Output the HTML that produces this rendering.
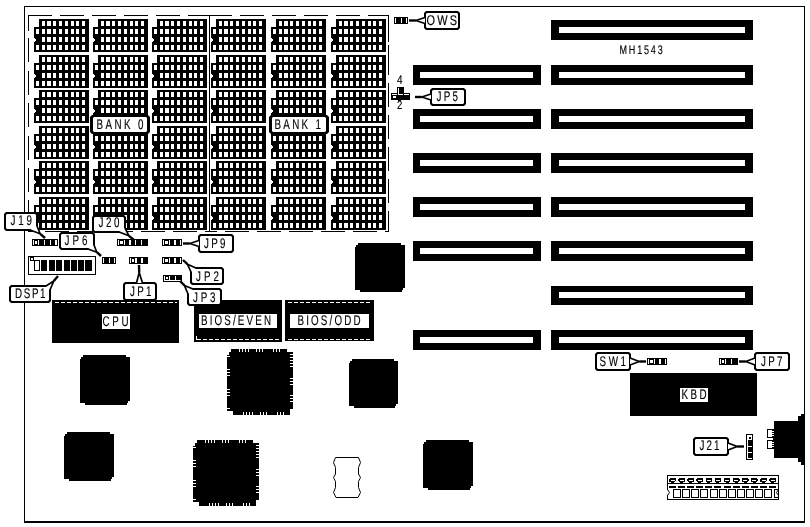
<!DOCTYPE html>
<html lang="en">
<head>
<meta charset="utf-8">
<title>MH1543 motherboard layout</title>
<style>
html,body{margin:0;padding:0;background:#fff;}
body{width:810px;height:527px;overflow:hidden;}
svg{display:block;}
svg rect, svg polygon{shape-rendering:crispEdges;}
svg text{text-rendering:geometricPrecision;}
svg{will-change:transform;}
</style>
</head>
<body>
<svg width="810" height="527" viewBox="0 0 810 527">
<rect x="0" y="0" width="810" height="527" fill="#fff"/>
<rect x="24" y="6" width="781" height="1" fill="#000"/>
<rect x="24" y="6" width="1" height="516" fill="#000"/>
<rect x="804" y="6" width="1" height="516" fill="#000"/>
<rect x="24" y="521" width="781" height="2" fill="#000"/>
<rect x="28" y="15" width="24" height="1" fill="#000"/>
<rect x="60" y="15" width="24" height="1" fill="#000"/>
<rect x="92" y="15" width="24" height="1" fill="#000"/>
<rect x="124" y="15" width="24" height="1" fill="#000"/>
<rect x="156" y="15" width="24" height="1" fill="#000"/>
<rect x="188" y="15" width="24" height="1" fill="#000"/>
<rect x="208" y="15" width="24" height="1" fill="#000"/>
<rect x="240" y="15" width="24" height="1" fill="#000"/>
<rect x="272" y="15" width="24" height="1" fill="#000"/>
<rect x="304" y="15" width="24" height="1" fill="#000"/>
<rect x="336" y="15" width="24" height="1" fill="#000"/>
<rect x="368" y="15" width="21" height="1" fill="#000"/>
<rect x="28" y="231" width="9" height="1" fill="#000"/>
<rect x="45" y="231" width="24" height="1" fill="#000"/>
<rect x="77" y="231" width="24" height="1" fill="#000"/>
<rect x="109" y="231" width="24" height="1" fill="#000"/>
<rect x="141" y="231" width="24" height="1" fill="#000"/>
<rect x="173" y="231" width="24" height="1" fill="#000"/>
<rect x="205" y="231" width="12" height="1" fill="#000"/>
<rect x="225" y="231" width="24" height="1" fill="#000"/>
<rect x="257" y="231" width="24" height="1" fill="#000"/>
<rect x="289" y="231" width="24" height="1" fill="#000"/>
<rect x="321" y="231" width="24" height="1" fill="#000"/>
<rect x="353" y="231" width="24" height="1" fill="#000"/>
<rect x="385" y="231" width="4" height="1" fill="#000"/>
<rect x="28" y="15" width="1" height="16" fill="#000"/>
<rect x="28" y="38" width="1" height="24" fill="#000"/>
<rect x="28" y="71" width="1" height="24" fill="#000"/>
<rect x="28" y="103" width="1" height="24" fill="#000"/>
<rect x="28" y="136" width="1" height="24" fill="#000"/>
<rect x="28" y="168" width="1" height="24" fill="#000"/>
<rect x="28" y="200" width="1" height="24" fill="#000"/>
<rect x="388" y="15" width="1" height="27" fill="#000"/>
<rect x="388" y="45" width="1" height="30" fill="#000"/>
<rect x="388" y="83" width="1" height="24" fill="#000"/>
<rect x="388" y="115" width="1" height="24" fill="#000"/>
<rect x="388" y="147" width="1" height="24" fill="#000"/>
<rect x="388" y="179" width="1" height="24" fill="#000"/>
<rect x="388" y="211" width="1" height="21" fill="#000"/>
<rect x="209" y="15" width="1" height="217" fill="#000"/>
<rect x="39" y="19" width="50" height="33" fill="#000"/>
<rect x="34" y="27" width="5" height="25" fill="#000"/>
<rect x="34" y="38" width="1" height="4" fill="#fff"/>
<rect x="35" y="39" width="1" height="2" fill="#fff"/>
<rect x="42" y="21" width="3" height="5" fill="#fff"/>
<rect x="47" y="21" width="4" height="5" fill="#fff"/>
<rect x="53" y="21" width="3" height="5" fill="#fff"/>
<rect x="59" y="21" width="3" height="5" fill="#fff"/>
<rect x="65" y="21" width="3" height="5" fill="#fff"/>
<rect x="71" y="21" width="3" height="5" fill="#fff"/>
<rect x="76" y="21" width="3" height="5" fill="#fff"/>
<rect x="82" y="21" width="3" height="5" fill="#fff"/>
<rect x="42" y="29" width="3" height="5" fill="#fff"/>
<rect x="47" y="29" width="4" height="5" fill="#fff"/>
<rect x="53" y="29" width="3" height="5" fill="#fff"/>
<rect x="59" y="29" width="3" height="5" fill="#fff"/>
<rect x="65" y="29" width="3" height="5" fill="#fff"/>
<rect x="71" y="29" width="3" height="5" fill="#fff"/>
<rect x="76" y="29" width="3" height="5" fill="#fff"/>
<rect x="82" y="29" width="3" height="5" fill="#fff"/>
<rect x="36" y="29" width="3" height="5" fill="#fff"/>
<rect x="42" y="37" width="3" height="5" fill="#fff"/>
<rect x="47" y="37" width="4" height="5" fill="#fff"/>
<rect x="53" y="37" width="3" height="5" fill="#fff"/>
<rect x="59" y="37" width="3" height="5" fill="#fff"/>
<rect x="65" y="37" width="3" height="5" fill="#fff"/>
<rect x="71" y="37" width="3" height="5" fill="#fff"/>
<rect x="76" y="37" width="3" height="5" fill="#fff"/>
<rect x="82" y="37" width="3" height="5" fill="#fff"/>
<rect x="42" y="45" width="3" height="5" fill="#fff"/>
<rect x="47" y="45" width="4" height="5" fill="#fff"/>
<rect x="53" y="45" width="3" height="5" fill="#fff"/>
<rect x="59" y="45" width="3" height="5" fill="#fff"/>
<rect x="65" y="45" width="3" height="5" fill="#fff"/>
<rect x="71" y="45" width="3" height="5" fill="#fff"/>
<rect x="76" y="45" width="3" height="5" fill="#fff"/>
<rect x="82" y="45" width="3" height="5" fill="#fff"/>
<rect x="36" y="45" width="3" height="5" fill="#fff"/>
<rect x="98" y="19" width="50" height="33" fill="#000"/>
<rect x="93" y="27" width="5" height="25" fill="#000"/>
<rect x="93" y="38" width="1" height="4" fill="#fff"/>
<rect x="94" y="39" width="1" height="2" fill="#fff"/>
<rect x="101" y="21" width="3" height="5" fill="#fff"/>
<rect x="106" y="21" width="4" height="5" fill="#fff"/>
<rect x="112" y="21" width="3" height="5" fill="#fff"/>
<rect x="118" y="21" width="3" height="5" fill="#fff"/>
<rect x="124" y="21" width="3" height="5" fill="#fff"/>
<rect x="130" y="21" width="3" height="5" fill="#fff"/>
<rect x="135" y="21" width="3" height="5" fill="#fff"/>
<rect x="141" y="21" width="3" height="5" fill="#fff"/>
<rect x="101" y="29" width="3" height="5" fill="#fff"/>
<rect x="106" y="29" width="4" height="5" fill="#fff"/>
<rect x="112" y="29" width="3" height="5" fill="#fff"/>
<rect x="118" y="29" width="3" height="5" fill="#fff"/>
<rect x="124" y="29" width="3" height="5" fill="#fff"/>
<rect x="130" y="29" width="3" height="5" fill="#fff"/>
<rect x="135" y="29" width="3" height="5" fill="#fff"/>
<rect x="141" y="29" width="3" height="5" fill="#fff"/>
<rect x="95" y="29" width="3" height="5" fill="#fff"/>
<rect x="101" y="37" width="3" height="5" fill="#fff"/>
<rect x="106" y="37" width="4" height="5" fill="#fff"/>
<rect x="112" y="37" width="3" height="5" fill="#fff"/>
<rect x="118" y="37" width="3" height="5" fill="#fff"/>
<rect x="124" y="37" width="3" height="5" fill="#fff"/>
<rect x="130" y="37" width="3" height="5" fill="#fff"/>
<rect x="135" y="37" width="3" height="5" fill="#fff"/>
<rect x="141" y="37" width="3" height="5" fill="#fff"/>
<rect x="101" y="45" width="3" height="5" fill="#fff"/>
<rect x="106" y="45" width="4" height="5" fill="#fff"/>
<rect x="112" y="45" width="3" height="5" fill="#fff"/>
<rect x="118" y="45" width="3" height="5" fill="#fff"/>
<rect x="124" y="45" width="3" height="5" fill="#fff"/>
<rect x="130" y="45" width="3" height="5" fill="#fff"/>
<rect x="135" y="45" width="3" height="5" fill="#fff"/>
<rect x="141" y="45" width="3" height="5" fill="#fff"/>
<rect x="95" y="45" width="3" height="5" fill="#fff"/>
<rect x="157" y="19" width="50" height="33" fill="#000"/>
<rect x="152" y="27" width="5" height="25" fill="#000"/>
<rect x="152" y="38" width="1" height="4" fill="#fff"/>
<rect x="153" y="39" width="1" height="2" fill="#fff"/>
<rect x="160" y="21" width="3" height="5" fill="#fff"/>
<rect x="165" y="21" width="4" height="5" fill="#fff"/>
<rect x="171" y="21" width="3" height="5" fill="#fff"/>
<rect x="177" y="21" width="3" height="5" fill="#fff"/>
<rect x="183" y="21" width="3" height="5" fill="#fff"/>
<rect x="189" y="21" width="3" height="5" fill="#fff"/>
<rect x="194" y="21" width="3" height="5" fill="#fff"/>
<rect x="200" y="21" width="3" height="5" fill="#fff"/>
<rect x="160" y="29" width="3" height="5" fill="#fff"/>
<rect x="165" y="29" width="4" height="5" fill="#fff"/>
<rect x="171" y="29" width="3" height="5" fill="#fff"/>
<rect x="177" y="29" width="3" height="5" fill="#fff"/>
<rect x="183" y="29" width="3" height="5" fill="#fff"/>
<rect x="189" y="29" width="3" height="5" fill="#fff"/>
<rect x="194" y="29" width="3" height="5" fill="#fff"/>
<rect x="200" y="29" width="3" height="5" fill="#fff"/>
<rect x="154" y="29" width="3" height="5" fill="#fff"/>
<rect x="160" y="37" width="3" height="5" fill="#fff"/>
<rect x="165" y="37" width="4" height="5" fill="#fff"/>
<rect x="171" y="37" width="3" height="5" fill="#fff"/>
<rect x="177" y="37" width="3" height="5" fill="#fff"/>
<rect x="183" y="37" width="3" height="5" fill="#fff"/>
<rect x="189" y="37" width="3" height="5" fill="#fff"/>
<rect x="194" y="37" width="3" height="5" fill="#fff"/>
<rect x="200" y="37" width="3" height="5" fill="#fff"/>
<rect x="160" y="45" width="3" height="5" fill="#fff"/>
<rect x="165" y="45" width="4" height="5" fill="#fff"/>
<rect x="171" y="45" width="3" height="5" fill="#fff"/>
<rect x="177" y="45" width="3" height="5" fill="#fff"/>
<rect x="183" y="45" width="3" height="5" fill="#fff"/>
<rect x="189" y="45" width="3" height="5" fill="#fff"/>
<rect x="194" y="45" width="3" height="5" fill="#fff"/>
<rect x="200" y="45" width="3" height="5" fill="#fff"/>
<rect x="154" y="45" width="3" height="5" fill="#fff"/>
<rect x="216" y="19" width="50" height="33" fill="#000"/>
<rect x="211" y="27" width="5" height="25" fill="#000"/>
<rect x="211" y="38" width="1" height="4" fill="#fff"/>
<rect x="212" y="39" width="1" height="2" fill="#fff"/>
<rect x="219" y="21" width="3" height="5" fill="#fff"/>
<rect x="224" y="21" width="4" height="5" fill="#fff"/>
<rect x="230" y="21" width="3" height="5" fill="#fff"/>
<rect x="236" y="21" width="3" height="5" fill="#fff"/>
<rect x="242" y="21" width="3" height="5" fill="#fff"/>
<rect x="248" y="21" width="3" height="5" fill="#fff"/>
<rect x="253" y="21" width="3" height="5" fill="#fff"/>
<rect x="259" y="21" width="3" height="5" fill="#fff"/>
<rect x="219" y="29" width="3" height="5" fill="#fff"/>
<rect x="224" y="29" width="4" height="5" fill="#fff"/>
<rect x="230" y="29" width="3" height="5" fill="#fff"/>
<rect x="236" y="29" width="3" height="5" fill="#fff"/>
<rect x="242" y="29" width="3" height="5" fill="#fff"/>
<rect x="248" y="29" width="3" height="5" fill="#fff"/>
<rect x="253" y="29" width="3" height="5" fill="#fff"/>
<rect x="259" y="29" width="3" height="5" fill="#fff"/>
<rect x="213" y="29" width="3" height="5" fill="#fff"/>
<rect x="219" y="37" width="3" height="5" fill="#fff"/>
<rect x="224" y="37" width="4" height="5" fill="#fff"/>
<rect x="230" y="37" width="3" height="5" fill="#fff"/>
<rect x="236" y="37" width="3" height="5" fill="#fff"/>
<rect x="242" y="37" width="3" height="5" fill="#fff"/>
<rect x="248" y="37" width="3" height="5" fill="#fff"/>
<rect x="253" y="37" width="3" height="5" fill="#fff"/>
<rect x="259" y="37" width="3" height="5" fill="#fff"/>
<rect x="219" y="45" width="3" height="5" fill="#fff"/>
<rect x="224" y="45" width="4" height="5" fill="#fff"/>
<rect x="230" y="45" width="3" height="5" fill="#fff"/>
<rect x="236" y="45" width="3" height="5" fill="#fff"/>
<rect x="242" y="45" width="3" height="5" fill="#fff"/>
<rect x="248" y="45" width="3" height="5" fill="#fff"/>
<rect x="253" y="45" width="3" height="5" fill="#fff"/>
<rect x="259" y="45" width="3" height="5" fill="#fff"/>
<rect x="213" y="45" width="3" height="5" fill="#fff"/>
<rect x="276" y="19" width="50" height="33" fill="#000"/>
<rect x="271" y="27" width="5" height="25" fill="#000"/>
<rect x="271" y="38" width="1" height="4" fill="#fff"/>
<rect x="272" y="39" width="1" height="2" fill="#fff"/>
<rect x="279" y="21" width="3" height="5" fill="#fff"/>
<rect x="284" y="21" width="4" height="5" fill="#fff"/>
<rect x="290" y="21" width="3" height="5" fill="#fff"/>
<rect x="296" y="21" width="3" height="5" fill="#fff"/>
<rect x="302" y="21" width="3" height="5" fill="#fff"/>
<rect x="308" y="21" width="3" height="5" fill="#fff"/>
<rect x="313" y="21" width="3" height="5" fill="#fff"/>
<rect x="319" y="21" width="3" height="5" fill="#fff"/>
<rect x="279" y="29" width="3" height="5" fill="#fff"/>
<rect x="284" y="29" width="4" height="5" fill="#fff"/>
<rect x="290" y="29" width="3" height="5" fill="#fff"/>
<rect x="296" y="29" width="3" height="5" fill="#fff"/>
<rect x="302" y="29" width="3" height="5" fill="#fff"/>
<rect x="308" y="29" width="3" height="5" fill="#fff"/>
<rect x="313" y="29" width="3" height="5" fill="#fff"/>
<rect x="319" y="29" width="3" height="5" fill="#fff"/>
<rect x="273" y="29" width="3" height="5" fill="#fff"/>
<rect x="279" y="37" width="3" height="5" fill="#fff"/>
<rect x="284" y="37" width="4" height="5" fill="#fff"/>
<rect x="290" y="37" width="3" height="5" fill="#fff"/>
<rect x="296" y="37" width="3" height="5" fill="#fff"/>
<rect x="302" y="37" width="3" height="5" fill="#fff"/>
<rect x="308" y="37" width="3" height="5" fill="#fff"/>
<rect x="313" y="37" width="3" height="5" fill="#fff"/>
<rect x="319" y="37" width="3" height="5" fill="#fff"/>
<rect x="279" y="45" width="3" height="5" fill="#fff"/>
<rect x="284" y="45" width="4" height="5" fill="#fff"/>
<rect x="290" y="45" width="3" height="5" fill="#fff"/>
<rect x="296" y="45" width="3" height="5" fill="#fff"/>
<rect x="302" y="45" width="3" height="5" fill="#fff"/>
<rect x="308" y="45" width="3" height="5" fill="#fff"/>
<rect x="313" y="45" width="3" height="5" fill="#fff"/>
<rect x="319" y="45" width="3" height="5" fill="#fff"/>
<rect x="273" y="45" width="3" height="5" fill="#fff"/>
<rect x="336" y="19" width="50" height="33" fill="#000"/>
<rect x="331" y="27" width="5" height="25" fill="#000"/>
<rect x="331" y="38" width="1" height="4" fill="#fff"/>
<rect x="332" y="39" width="1" height="2" fill="#fff"/>
<rect x="339" y="21" width="3" height="5" fill="#fff"/>
<rect x="344" y="21" width="4" height="5" fill="#fff"/>
<rect x="350" y="21" width="3" height="5" fill="#fff"/>
<rect x="356" y="21" width="3" height="5" fill="#fff"/>
<rect x="362" y="21" width="3" height="5" fill="#fff"/>
<rect x="368" y="21" width="3" height="5" fill="#fff"/>
<rect x="373" y="21" width="3" height="5" fill="#fff"/>
<rect x="379" y="21" width="3" height="5" fill="#fff"/>
<rect x="339" y="29" width="3" height="5" fill="#fff"/>
<rect x="344" y="29" width="4" height="5" fill="#fff"/>
<rect x="350" y="29" width="3" height="5" fill="#fff"/>
<rect x="356" y="29" width="3" height="5" fill="#fff"/>
<rect x="362" y="29" width="3" height="5" fill="#fff"/>
<rect x="368" y="29" width="3" height="5" fill="#fff"/>
<rect x="373" y="29" width="3" height="5" fill="#fff"/>
<rect x="379" y="29" width="3" height="5" fill="#fff"/>
<rect x="333" y="29" width="3" height="5" fill="#fff"/>
<rect x="339" y="37" width="3" height="5" fill="#fff"/>
<rect x="344" y="37" width="4" height="5" fill="#fff"/>
<rect x="350" y="37" width="3" height="5" fill="#fff"/>
<rect x="356" y="37" width="3" height="5" fill="#fff"/>
<rect x="362" y="37" width="3" height="5" fill="#fff"/>
<rect x="368" y="37" width="3" height="5" fill="#fff"/>
<rect x="373" y="37" width="3" height="5" fill="#fff"/>
<rect x="379" y="37" width="3" height="5" fill="#fff"/>
<rect x="339" y="45" width="3" height="5" fill="#fff"/>
<rect x="344" y="45" width="4" height="5" fill="#fff"/>
<rect x="350" y="45" width="3" height="5" fill="#fff"/>
<rect x="356" y="45" width="3" height="5" fill="#fff"/>
<rect x="362" y="45" width="3" height="5" fill="#fff"/>
<rect x="368" y="45" width="3" height="5" fill="#fff"/>
<rect x="373" y="45" width="3" height="5" fill="#fff"/>
<rect x="379" y="45" width="3" height="5" fill="#fff"/>
<rect x="333" y="45" width="3" height="5" fill="#fff"/>
<rect x="39" y="55" width="50" height="33" fill="#000"/>
<rect x="34" y="63" width="5" height="25" fill="#000"/>
<rect x="34" y="74" width="1" height="4" fill="#fff"/>
<rect x="35" y="75" width="1" height="2" fill="#fff"/>
<rect x="42" y="57" width="3" height="5" fill="#fff"/>
<rect x="47" y="57" width="4" height="5" fill="#fff"/>
<rect x="53" y="57" width="3" height="5" fill="#fff"/>
<rect x="59" y="57" width="3" height="5" fill="#fff"/>
<rect x="65" y="57" width="3" height="5" fill="#fff"/>
<rect x="71" y="57" width="3" height="5" fill="#fff"/>
<rect x="76" y="57" width="3" height="5" fill="#fff"/>
<rect x="82" y="57" width="3" height="5" fill="#fff"/>
<rect x="42" y="65" width="3" height="5" fill="#fff"/>
<rect x="47" y="65" width="4" height="5" fill="#fff"/>
<rect x="53" y="65" width="3" height="5" fill="#fff"/>
<rect x="59" y="65" width="3" height="5" fill="#fff"/>
<rect x="65" y="65" width="3" height="5" fill="#fff"/>
<rect x="71" y="65" width="3" height="5" fill="#fff"/>
<rect x="76" y="65" width="3" height="5" fill="#fff"/>
<rect x="82" y="65" width="3" height="5" fill="#fff"/>
<rect x="36" y="65" width="3" height="5" fill="#fff"/>
<rect x="42" y="73" width="3" height="5" fill="#fff"/>
<rect x="47" y="73" width="4" height="5" fill="#fff"/>
<rect x="53" y="73" width="3" height="5" fill="#fff"/>
<rect x="59" y="73" width="3" height="5" fill="#fff"/>
<rect x="65" y="73" width="3" height="5" fill="#fff"/>
<rect x="71" y="73" width="3" height="5" fill="#fff"/>
<rect x="76" y="73" width="3" height="5" fill="#fff"/>
<rect x="82" y="73" width="3" height="5" fill="#fff"/>
<rect x="42" y="81" width="3" height="5" fill="#fff"/>
<rect x="47" y="81" width="4" height="5" fill="#fff"/>
<rect x="53" y="81" width="3" height="5" fill="#fff"/>
<rect x="59" y="81" width="3" height="5" fill="#fff"/>
<rect x="65" y="81" width="3" height="5" fill="#fff"/>
<rect x="71" y="81" width="3" height="5" fill="#fff"/>
<rect x="76" y="81" width="3" height="5" fill="#fff"/>
<rect x="82" y="81" width="3" height="5" fill="#fff"/>
<rect x="36" y="81" width="3" height="5" fill="#fff"/>
<rect x="98" y="55" width="50" height="33" fill="#000"/>
<rect x="93" y="63" width="5" height="25" fill="#000"/>
<rect x="93" y="74" width="1" height="4" fill="#fff"/>
<rect x="94" y="75" width="1" height="2" fill="#fff"/>
<rect x="101" y="57" width="3" height="5" fill="#fff"/>
<rect x="106" y="57" width="4" height="5" fill="#fff"/>
<rect x="112" y="57" width="3" height="5" fill="#fff"/>
<rect x="118" y="57" width="3" height="5" fill="#fff"/>
<rect x="124" y="57" width="3" height="5" fill="#fff"/>
<rect x="130" y="57" width="3" height="5" fill="#fff"/>
<rect x="135" y="57" width="3" height="5" fill="#fff"/>
<rect x="141" y="57" width="3" height="5" fill="#fff"/>
<rect x="101" y="65" width="3" height="5" fill="#fff"/>
<rect x="106" y="65" width="4" height="5" fill="#fff"/>
<rect x="112" y="65" width="3" height="5" fill="#fff"/>
<rect x="118" y="65" width="3" height="5" fill="#fff"/>
<rect x="124" y="65" width="3" height="5" fill="#fff"/>
<rect x="130" y="65" width="3" height="5" fill="#fff"/>
<rect x="135" y="65" width="3" height="5" fill="#fff"/>
<rect x="141" y="65" width="3" height="5" fill="#fff"/>
<rect x="95" y="65" width="3" height="5" fill="#fff"/>
<rect x="101" y="73" width="3" height="5" fill="#fff"/>
<rect x="106" y="73" width="4" height="5" fill="#fff"/>
<rect x="112" y="73" width="3" height="5" fill="#fff"/>
<rect x="118" y="73" width="3" height="5" fill="#fff"/>
<rect x="124" y="73" width="3" height="5" fill="#fff"/>
<rect x="130" y="73" width="3" height="5" fill="#fff"/>
<rect x="135" y="73" width="3" height="5" fill="#fff"/>
<rect x="141" y="73" width="3" height="5" fill="#fff"/>
<rect x="101" y="81" width="3" height="5" fill="#fff"/>
<rect x="106" y="81" width="4" height="5" fill="#fff"/>
<rect x="112" y="81" width="3" height="5" fill="#fff"/>
<rect x="118" y="81" width="3" height="5" fill="#fff"/>
<rect x="124" y="81" width="3" height="5" fill="#fff"/>
<rect x="130" y="81" width="3" height="5" fill="#fff"/>
<rect x="135" y="81" width="3" height="5" fill="#fff"/>
<rect x="141" y="81" width="3" height="5" fill="#fff"/>
<rect x="95" y="81" width="3" height="5" fill="#fff"/>
<rect x="157" y="55" width="50" height="33" fill="#000"/>
<rect x="152" y="63" width="5" height="25" fill="#000"/>
<rect x="152" y="74" width="1" height="4" fill="#fff"/>
<rect x="153" y="75" width="1" height="2" fill="#fff"/>
<rect x="160" y="57" width="3" height="5" fill="#fff"/>
<rect x="165" y="57" width="4" height="5" fill="#fff"/>
<rect x="171" y="57" width="3" height="5" fill="#fff"/>
<rect x="177" y="57" width="3" height="5" fill="#fff"/>
<rect x="183" y="57" width="3" height="5" fill="#fff"/>
<rect x="189" y="57" width="3" height="5" fill="#fff"/>
<rect x="194" y="57" width="3" height="5" fill="#fff"/>
<rect x="200" y="57" width="3" height="5" fill="#fff"/>
<rect x="160" y="65" width="3" height="5" fill="#fff"/>
<rect x="165" y="65" width="4" height="5" fill="#fff"/>
<rect x="171" y="65" width="3" height="5" fill="#fff"/>
<rect x="177" y="65" width="3" height="5" fill="#fff"/>
<rect x="183" y="65" width="3" height="5" fill="#fff"/>
<rect x="189" y="65" width="3" height="5" fill="#fff"/>
<rect x="194" y="65" width="3" height="5" fill="#fff"/>
<rect x="200" y="65" width="3" height="5" fill="#fff"/>
<rect x="154" y="65" width="3" height="5" fill="#fff"/>
<rect x="160" y="73" width="3" height="5" fill="#fff"/>
<rect x="165" y="73" width="4" height="5" fill="#fff"/>
<rect x="171" y="73" width="3" height="5" fill="#fff"/>
<rect x="177" y="73" width="3" height="5" fill="#fff"/>
<rect x="183" y="73" width="3" height="5" fill="#fff"/>
<rect x="189" y="73" width="3" height="5" fill="#fff"/>
<rect x="194" y="73" width="3" height="5" fill="#fff"/>
<rect x="200" y="73" width="3" height="5" fill="#fff"/>
<rect x="160" y="81" width="3" height="5" fill="#fff"/>
<rect x="165" y="81" width="4" height="5" fill="#fff"/>
<rect x="171" y="81" width="3" height="5" fill="#fff"/>
<rect x="177" y="81" width="3" height="5" fill="#fff"/>
<rect x="183" y="81" width="3" height="5" fill="#fff"/>
<rect x="189" y="81" width="3" height="5" fill="#fff"/>
<rect x="194" y="81" width="3" height="5" fill="#fff"/>
<rect x="200" y="81" width="3" height="5" fill="#fff"/>
<rect x="154" y="81" width="3" height="5" fill="#fff"/>
<rect x="216" y="55" width="50" height="33" fill="#000"/>
<rect x="211" y="63" width="5" height="25" fill="#000"/>
<rect x="211" y="74" width="1" height="4" fill="#fff"/>
<rect x="212" y="75" width="1" height="2" fill="#fff"/>
<rect x="219" y="57" width="3" height="5" fill="#fff"/>
<rect x="224" y="57" width="4" height="5" fill="#fff"/>
<rect x="230" y="57" width="3" height="5" fill="#fff"/>
<rect x="236" y="57" width="3" height="5" fill="#fff"/>
<rect x="242" y="57" width="3" height="5" fill="#fff"/>
<rect x="248" y="57" width="3" height="5" fill="#fff"/>
<rect x="253" y="57" width="3" height="5" fill="#fff"/>
<rect x="259" y="57" width="3" height="5" fill="#fff"/>
<rect x="219" y="65" width="3" height="5" fill="#fff"/>
<rect x="224" y="65" width="4" height="5" fill="#fff"/>
<rect x="230" y="65" width="3" height="5" fill="#fff"/>
<rect x="236" y="65" width="3" height="5" fill="#fff"/>
<rect x="242" y="65" width="3" height="5" fill="#fff"/>
<rect x="248" y="65" width="3" height="5" fill="#fff"/>
<rect x="253" y="65" width="3" height="5" fill="#fff"/>
<rect x="259" y="65" width="3" height="5" fill="#fff"/>
<rect x="213" y="65" width="3" height="5" fill="#fff"/>
<rect x="219" y="73" width="3" height="5" fill="#fff"/>
<rect x="224" y="73" width="4" height="5" fill="#fff"/>
<rect x="230" y="73" width="3" height="5" fill="#fff"/>
<rect x="236" y="73" width="3" height="5" fill="#fff"/>
<rect x="242" y="73" width="3" height="5" fill="#fff"/>
<rect x="248" y="73" width="3" height="5" fill="#fff"/>
<rect x="253" y="73" width="3" height="5" fill="#fff"/>
<rect x="259" y="73" width="3" height="5" fill="#fff"/>
<rect x="219" y="81" width="3" height="5" fill="#fff"/>
<rect x="224" y="81" width="4" height="5" fill="#fff"/>
<rect x="230" y="81" width="3" height="5" fill="#fff"/>
<rect x="236" y="81" width="3" height="5" fill="#fff"/>
<rect x="242" y="81" width="3" height="5" fill="#fff"/>
<rect x="248" y="81" width="3" height="5" fill="#fff"/>
<rect x="253" y="81" width="3" height="5" fill="#fff"/>
<rect x="259" y="81" width="3" height="5" fill="#fff"/>
<rect x="213" y="81" width="3" height="5" fill="#fff"/>
<rect x="276" y="55" width="50" height="33" fill="#000"/>
<rect x="271" y="63" width="5" height="25" fill="#000"/>
<rect x="271" y="74" width="1" height="4" fill="#fff"/>
<rect x="272" y="75" width="1" height="2" fill="#fff"/>
<rect x="279" y="57" width="3" height="5" fill="#fff"/>
<rect x="284" y="57" width="4" height="5" fill="#fff"/>
<rect x="290" y="57" width="3" height="5" fill="#fff"/>
<rect x="296" y="57" width="3" height="5" fill="#fff"/>
<rect x="302" y="57" width="3" height="5" fill="#fff"/>
<rect x="308" y="57" width="3" height="5" fill="#fff"/>
<rect x="313" y="57" width="3" height="5" fill="#fff"/>
<rect x="319" y="57" width="3" height="5" fill="#fff"/>
<rect x="279" y="65" width="3" height="5" fill="#fff"/>
<rect x="284" y="65" width="4" height="5" fill="#fff"/>
<rect x="290" y="65" width="3" height="5" fill="#fff"/>
<rect x="296" y="65" width="3" height="5" fill="#fff"/>
<rect x="302" y="65" width="3" height="5" fill="#fff"/>
<rect x="308" y="65" width="3" height="5" fill="#fff"/>
<rect x="313" y="65" width="3" height="5" fill="#fff"/>
<rect x="319" y="65" width="3" height="5" fill="#fff"/>
<rect x="273" y="65" width="3" height="5" fill="#fff"/>
<rect x="279" y="73" width="3" height="5" fill="#fff"/>
<rect x="284" y="73" width="4" height="5" fill="#fff"/>
<rect x="290" y="73" width="3" height="5" fill="#fff"/>
<rect x="296" y="73" width="3" height="5" fill="#fff"/>
<rect x="302" y="73" width="3" height="5" fill="#fff"/>
<rect x="308" y="73" width="3" height="5" fill="#fff"/>
<rect x="313" y="73" width="3" height="5" fill="#fff"/>
<rect x="319" y="73" width="3" height="5" fill="#fff"/>
<rect x="279" y="81" width="3" height="5" fill="#fff"/>
<rect x="284" y="81" width="4" height="5" fill="#fff"/>
<rect x="290" y="81" width="3" height="5" fill="#fff"/>
<rect x="296" y="81" width="3" height="5" fill="#fff"/>
<rect x="302" y="81" width="3" height="5" fill="#fff"/>
<rect x="308" y="81" width="3" height="5" fill="#fff"/>
<rect x="313" y="81" width="3" height="5" fill="#fff"/>
<rect x="319" y="81" width="3" height="5" fill="#fff"/>
<rect x="273" y="81" width="3" height="5" fill="#fff"/>
<rect x="336" y="55" width="50" height="33" fill="#000"/>
<rect x="331" y="63" width="5" height="25" fill="#000"/>
<rect x="331" y="74" width="1" height="4" fill="#fff"/>
<rect x="332" y="75" width="1" height="2" fill="#fff"/>
<rect x="339" y="57" width="3" height="5" fill="#fff"/>
<rect x="344" y="57" width="4" height="5" fill="#fff"/>
<rect x="350" y="57" width="3" height="5" fill="#fff"/>
<rect x="356" y="57" width="3" height="5" fill="#fff"/>
<rect x="362" y="57" width="3" height="5" fill="#fff"/>
<rect x="368" y="57" width="3" height="5" fill="#fff"/>
<rect x="373" y="57" width="3" height="5" fill="#fff"/>
<rect x="379" y="57" width="3" height="5" fill="#fff"/>
<rect x="339" y="65" width="3" height="5" fill="#fff"/>
<rect x="344" y="65" width="4" height="5" fill="#fff"/>
<rect x="350" y="65" width="3" height="5" fill="#fff"/>
<rect x="356" y="65" width="3" height="5" fill="#fff"/>
<rect x="362" y="65" width="3" height="5" fill="#fff"/>
<rect x="368" y="65" width="3" height="5" fill="#fff"/>
<rect x="373" y="65" width="3" height="5" fill="#fff"/>
<rect x="379" y="65" width="3" height="5" fill="#fff"/>
<rect x="333" y="65" width="3" height="5" fill="#fff"/>
<rect x="339" y="73" width="3" height="5" fill="#fff"/>
<rect x="344" y="73" width="4" height="5" fill="#fff"/>
<rect x="350" y="73" width="3" height="5" fill="#fff"/>
<rect x="356" y="73" width="3" height="5" fill="#fff"/>
<rect x="362" y="73" width="3" height="5" fill="#fff"/>
<rect x="368" y="73" width="3" height="5" fill="#fff"/>
<rect x="373" y="73" width="3" height="5" fill="#fff"/>
<rect x="379" y="73" width="3" height="5" fill="#fff"/>
<rect x="339" y="81" width="3" height="5" fill="#fff"/>
<rect x="344" y="81" width="4" height="5" fill="#fff"/>
<rect x="350" y="81" width="3" height="5" fill="#fff"/>
<rect x="356" y="81" width="3" height="5" fill="#fff"/>
<rect x="362" y="81" width="3" height="5" fill="#fff"/>
<rect x="368" y="81" width="3" height="5" fill="#fff"/>
<rect x="373" y="81" width="3" height="5" fill="#fff"/>
<rect x="379" y="81" width="3" height="5" fill="#fff"/>
<rect x="333" y="81" width="3" height="5" fill="#fff"/>
<rect x="39" y="90" width="50" height="33" fill="#000"/>
<rect x="34" y="98" width="5" height="25" fill="#000"/>
<rect x="34" y="109" width="1" height="4" fill="#fff"/>
<rect x="35" y="110" width="1" height="2" fill="#fff"/>
<rect x="42" y="92" width="3" height="5" fill="#fff"/>
<rect x="47" y="92" width="4" height="5" fill="#fff"/>
<rect x="53" y="92" width="3" height="5" fill="#fff"/>
<rect x="59" y="92" width="3" height="5" fill="#fff"/>
<rect x="65" y="92" width="3" height="5" fill="#fff"/>
<rect x="71" y="92" width="3" height="5" fill="#fff"/>
<rect x="76" y="92" width="3" height="5" fill="#fff"/>
<rect x="82" y="92" width="3" height="5" fill="#fff"/>
<rect x="42" y="100" width="3" height="5" fill="#fff"/>
<rect x="47" y="100" width="4" height="5" fill="#fff"/>
<rect x="53" y="100" width="3" height="5" fill="#fff"/>
<rect x="59" y="100" width="3" height="5" fill="#fff"/>
<rect x="65" y="100" width="3" height="5" fill="#fff"/>
<rect x="71" y="100" width="3" height="5" fill="#fff"/>
<rect x="76" y="100" width="3" height="5" fill="#fff"/>
<rect x="82" y="100" width="3" height="5" fill="#fff"/>
<rect x="36" y="100" width="3" height="5" fill="#fff"/>
<rect x="42" y="108" width="3" height="5" fill="#fff"/>
<rect x="47" y="108" width="4" height="5" fill="#fff"/>
<rect x="53" y="108" width="3" height="5" fill="#fff"/>
<rect x="59" y="108" width="3" height="5" fill="#fff"/>
<rect x="65" y="108" width="3" height="5" fill="#fff"/>
<rect x="71" y="108" width="3" height="5" fill="#fff"/>
<rect x="76" y="108" width="3" height="5" fill="#fff"/>
<rect x="82" y="108" width="3" height="5" fill="#fff"/>
<rect x="42" y="116" width="3" height="5" fill="#fff"/>
<rect x="47" y="116" width="4" height="5" fill="#fff"/>
<rect x="53" y="116" width="3" height="5" fill="#fff"/>
<rect x="59" y="116" width="3" height="5" fill="#fff"/>
<rect x="65" y="116" width="3" height="5" fill="#fff"/>
<rect x="71" y="116" width="3" height="5" fill="#fff"/>
<rect x="76" y="116" width="3" height="5" fill="#fff"/>
<rect x="82" y="116" width="3" height="5" fill="#fff"/>
<rect x="36" y="116" width="3" height="5" fill="#fff"/>
<rect x="98" y="90" width="50" height="33" fill="#000"/>
<rect x="93" y="98" width="5" height="25" fill="#000"/>
<rect x="93" y="109" width="1" height="4" fill="#fff"/>
<rect x="94" y="110" width="1" height="2" fill="#fff"/>
<rect x="101" y="92" width="3" height="5" fill="#fff"/>
<rect x="106" y="92" width="4" height="5" fill="#fff"/>
<rect x="112" y="92" width="3" height="5" fill="#fff"/>
<rect x="118" y="92" width="3" height="5" fill="#fff"/>
<rect x="124" y="92" width="3" height="5" fill="#fff"/>
<rect x="130" y="92" width="3" height="5" fill="#fff"/>
<rect x="135" y="92" width="3" height="5" fill="#fff"/>
<rect x="141" y="92" width="3" height="5" fill="#fff"/>
<rect x="101" y="100" width="3" height="5" fill="#fff"/>
<rect x="106" y="100" width="4" height="5" fill="#fff"/>
<rect x="112" y="100" width="3" height="5" fill="#fff"/>
<rect x="118" y="100" width="3" height="5" fill="#fff"/>
<rect x="124" y="100" width="3" height="5" fill="#fff"/>
<rect x="130" y="100" width="3" height="5" fill="#fff"/>
<rect x="135" y="100" width="3" height="5" fill="#fff"/>
<rect x="141" y="100" width="3" height="5" fill="#fff"/>
<rect x="95" y="100" width="3" height="5" fill="#fff"/>
<rect x="101" y="108" width="3" height="5" fill="#fff"/>
<rect x="106" y="108" width="4" height="5" fill="#fff"/>
<rect x="112" y="108" width="3" height="5" fill="#fff"/>
<rect x="118" y="108" width="3" height="5" fill="#fff"/>
<rect x="124" y="108" width="3" height="5" fill="#fff"/>
<rect x="130" y="108" width="3" height="5" fill="#fff"/>
<rect x="135" y="108" width="3" height="5" fill="#fff"/>
<rect x="141" y="108" width="3" height="5" fill="#fff"/>
<rect x="101" y="116" width="3" height="5" fill="#fff"/>
<rect x="106" y="116" width="4" height="5" fill="#fff"/>
<rect x="112" y="116" width="3" height="5" fill="#fff"/>
<rect x="118" y="116" width="3" height="5" fill="#fff"/>
<rect x="124" y="116" width="3" height="5" fill="#fff"/>
<rect x="130" y="116" width="3" height="5" fill="#fff"/>
<rect x="135" y="116" width="3" height="5" fill="#fff"/>
<rect x="141" y="116" width="3" height="5" fill="#fff"/>
<rect x="95" y="116" width="3" height="5" fill="#fff"/>
<rect x="157" y="90" width="50" height="33" fill="#000"/>
<rect x="152" y="98" width="5" height="25" fill="#000"/>
<rect x="152" y="109" width="1" height="4" fill="#fff"/>
<rect x="153" y="110" width="1" height="2" fill="#fff"/>
<rect x="160" y="92" width="3" height="5" fill="#fff"/>
<rect x="165" y="92" width="4" height="5" fill="#fff"/>
<rect x="171" y="92" width="3" height="5" fill="#fff"/>
<rect x="177" y="92" width="3" height="5" fill="#fff"/>
<rect x="183" y="92" width="3" height="5" fill="#fff"/>
<rect x="189" y="92" width="3" height="5" fill="#fff"/>
<rect x="194" y="92" width="3" height="5" fill="#fff"/>
<rect x="200" y="92" width="3" height="5" fill="#fff"/>
<rect x="160" y="100" width="3" height="5" fill="#fff"/>
<rect x="165" y="100" width="4" height="5" fill="#fff"/>
<rect x="171" y="100" width="3" height="5" fill="#fff"/>
<rect x="177" y="100" width="3" height="5" fill="#fff"/>
<rect x="183" y="100" width="3" height="5" fill="#fff"/>
<rect x="189" y="100" width="3" height="5" fill="#fff"/>
<rect x="194" y="100" width="3" height="5" fill="#fff"/>
<rect x="200" y="100" width="3" height="5" fill="#fff"/>
<rect x="154" y="100" width="3" height="5" fill="#fff"/>
<rect x="160" y="108" width="3" height="5" fill="#fff"/>
<rect x="165" y="108" width="4" height="5" fill="#fff"/>
<rect x="171" y="108" width="3" height="5" fill="#fff"/>
<rect x="177" y="108" width="3" height="5" fill="#fff"/>
<rect x="183" y="108" width="3" height="5" fill="#fff"/>
<rect x="189" y="108" width="3" height="5" fill="#fff"/>
<rect x="194" y="108" width="3" height="5" fill="#fff"/>
<rect x="200" y="108" width="3" height="5" fill="#fff"/>
<rect x="160" y="116" width="3" height="5" fill="#fff"/>
<rect x="165" y="116" width="4" height="5" fill="#fff"/>
<rect x="171" y="116" width="3" height="5" fill="#fff"/>
<rect x="177" y="116" width="3" height="5" fill="#fff"/>
<rect x="183" y="116" width="3" height="5" fill="#fff"/>
<rect x="189" y="116" width="3" height="5" fill="#fff"/>
<rect x="194" y="116" width="3" height="5" fill="#fff"/>
<rect x="200" y="116" width="3" height="5" fill="#fff"/>
<rect x="154" y="116" width="3" height="5" fill="#fff"/>
<rect x="216" y="90" width="50" height="33" fill="#000"/>
<rect x="211" y="98" width="5" height="25" fill="#000"/>
<rect x="211" y="109" width="1" height="4" fill="#fff"/>
<rect x="212" y="110" width="1" height="2" fill="#fff"/>
<rect x="219" y="92" width="3" height="5" fill="#fff"/>
<rect x="224" y="92" width="4" height="5" fill="#fff"/>
<rect x="230" y="92" width="3" height="5" fill="#fff"/>
<rect x="236" y="92" width="3" height="5" fill="#fff"/>
<rect x="242" y="92" width="3" height="5" fill="#fff"/>
<rect x="248" y="92" width="3" height="5" fill="#fff"/>
<rect x="253" y="92" width="3" height="5" fill="#fff"/>
<rect x="259" y="92" width="3" height="5" fill="#fff"/>
<rect x="219" y="100" width="3" height="5" fill="#fff"/>
<rect x="224" y="100" width="4" height="5" fill="#fff"/>
<rect x="230" y="100" width="3" height="5" fill="#fff"/>
<rect x="236" y="100" width="3" height="5" fill="#fff"/>
<rect x="242" y="100" width="3" height="5" fill="#fff"/>
<rect x="248" y="100" width="3" height="5" fill="#fff"/>
<rect x="253" y="100" width="3" height="5" fill="#fff"/>
<rect x="259" y="100" width="3" height="5" fill="#fff"/>
<rect x="213" y="100" width="3" height="5" fill="#fff"/>
<rect x="219" y="108" width="3" height="5" fill="#fff"/>
<rect x="224" y="108" width="4" height="5" fill="#fff"/>
<rect x="230" y="108" width="3" height="5" fill="#fff"/>
<rect x="236" y="108" width="3" height="5" fill="#fff"/>
<rect x="242" y="108" width="3" height="5" fill="#fff"/>
<rect x="248" y="108" width="3" height="5" fill="#fff"/>
<rect x="253" y="108" width="3" height="5" fill="#fff"/>
<rect x="259" y="108" width="3" height="5" fill="#fff"/>
<rect x="219" y="116" width="3" height="5" fill="#fff"/>
<rect x="224" y="116" width="4" height="5" fill="#fff"/>
<rect x="230" y="116" width="3" height="5" fill="#fff"/>
<rect x="236" y="116" width="3" height="5" fill="#fff"/>
<rect x="242" y="116" width="3" height="5" fill="#fff"/>
<rect x="248" y="116" width="3" height="5" fill="#fff"/>
<rect x="253" y="116" width="3" height="5" fill="#fff"/>
<rect x="259" y="116" width="3" height="5" fill="#fff"/>
<rect x="213" y="116" width="3" height="5" fill="#fff"/>
<rect x="276" y="90" width="50" height="33" fill="#000"/>
<rect x="271" y="98" width="5" height="25" fill="#000"/>
<rect x="271" y="109" width="1" height="4" fill="#fff"/>
<rect x="272" y="110" width="1" height="2" fill="#fff"/>
<rect x="279" y="92" width="3" height="5" fill="#fff"/>
<rect x="284" y="92" width="4" height="5" fill="#fff"/>
<rect x="290" y="92" width="3" height="5" fill="#fff"/>
<rect x="296" y="92" width="3" height="5" fill="#fff"/>
<rect x="302" y="92" width="3" height="5" fill="#fff"/>
<rect x="308" y="92" width="3" height="5" fill="#fff"/>
<rect x="313" y="92" width="3" height="5" fill="#fff"/>
<rect x="319" y="92" width="3" height="5" fill="#fff"/>
<rect x="279" y="100" width="3" height="5" fill="#fff"/>
<rect x="284" y="100" width="4" height="5" fill="#fff"/>
<rect x="290" y="100" width="3" height="5" fill="#fff"/>
<rect x="296" y="100" width="3" height="5" fill="#fff"/>
<rect x="302" y="100" width="3" height="5" fill="#fff"/>
<rect x="308" y="100" width="3" height="5" fill="#fff"/>
<rect x="313" y="100" width="3" height="5" fill="#fff"/>
<rect x="319" y="100" width="3" height="5" fill="#fff"/>
<rect x="273" y="100" width="3" height="5" fill="#fff"/>
<rect x="279" y="108" width="3" height="5" fill="#fff"/>
<rect x="284" y="108" width="4" height="5" fill="#fff"/>
<rect x="290" y="108" width="3" height="5" fill="#fff"/>
<rect x="296" y="108" width="3" height="5" fill="#fff"/>
<rect x="302" y="108" width="3" height="5" fill="#fff"/>
<rect x="308" y="108" width="3" height="5" fill="#fff"/>
<rect x="313" y="108" width="3" height="5" fill="#fff"/>
<rect x="319" y="108" width="3" height="5" fill="#fff"/>
<rect x="279" y="116" width="3" height="5" fill="#fff"/>
<rect x="284" y="116" width="4" height="5" fill="#fff"/>
<rect x="290" y="116" width="3" height="5" fill="#fff"/>
<rect x="296" y="116" width="3" height="5" fill="#fff"/>
<rect x="302" y="116" width="3" height="5" fill="#fff"/>
<rect x="308" y="116" width="3" height="5" fill="#fff"/>
<rect x="313" y="116" width="3" height="5" fill="#fff"/>
<rect x="319" y="116" width="3" height="5" fill="#fff"/>
<rect x="273" y="116" width="3" height="5" fill="#fff"/>
<rect x="336" y="90" width="50" height="33" fill="#000"/>
<rect x="331" y="98" width="5" height="25" fill="#000"/>
<rect x="331" y="109" width="1" height="4" fill="#fff"/>
<rect x="332" y="110" width="1" height="2" fill="#fff"/>
<rect x="339" y="92" width="3" height="5" fill="#fff"/>
<rect x="344" y="92" width="4" height="5" fill="#fff"/>
<rect x="350" y="92" width="3" height="5" fill="#fff"/>
<rect x="356" y="92" width="3" height="5" fill="#fff"/>
<rect x="362" y="92" width="3" height="5" fill="#fff"/>
<rect x="368" y="92" width="3" height="5" fill="#fff"/>
<rect x="373" y="92" width="3" height="5" fill="#fff"/>
<rect x="379" y="92" width="3" height="5" fill="#fff"/>
<rect x="339" y="100" width="3" height="5" fill="#fff"/>
<rect x="344" y="100" width="4" height="5" fill="#fff"/>
<rect x="350" y="100" width="3" height="5" fill="#fff"/>
<rect x="356" y="100" width="3" height="5" fill="#fff"/>
<rect x="362" y="100" width="3" height="5" fill="#fff"/>
<rect x="368" y="100" width="3" height="5" fill="#fff"/>
<rect x="373" y="100" width="3" height="5" fill="#fff"/>
<rect x="379" y="100" width="3" height="5" fill="#fff"/>
<rect x="333" y="100" width="3" height="5" fill="#fff"/>
<rect x="339" y="108" width="3" height="5" fill="#fff"/>
<rect x="344" y="108" width="4" height="5" fill="#fff"/>
<rect x="350" y="108" width="3" height="5" fill="#fff"/>
<rect x="356" y="108" width="3" height="5" fill="#fff"/>
<rect x="362" y="108" width="3" height="5" fill="#fff"/>
<rect x="368" y="108" width="3" height="5" fill="#fff"/>
<rect x="373" y="108" width="3" height="5" fill="#fff"/>
<rect x="379" y="108" width="3" height="5" fill="#fff"/>
<rect x="339" y="116" width="3" height="5" fill="#fff"/>
<rect x="344" y="116" width="4" height="5" fill="#fff"/>
<rect x="350" y="116" width="3" height="5" fill="#fff"/>
<rect x="356" y="116" width="3" height="5" fill="#fff"/>
<rect x="362" y="116" width="3" height="5" fill="#fff"/>
<rect x="368" y="116" width="3" height="5" fill="#fff"/>
<rect x="373" y="116" width="3" height="5" fill="#fff"/>
<rect x="379" y="116" width="3" height="5" fill="#fff"/>
<rect x="333" y="116" width="3" height="5" fill="#fff"/>
<rect x="39" y="126" width="50" height="33" fill="#000"/>
<rect x="34" y="134" width="5" height="25" fill="#000"/>
<rect x="34" y="145" width="1" height="4" fill="#fff"/>
<rect x="35" y="146" width="1" height="2" fill="#fff"/>
<rect x="42" y="128" width="3" height="5" fill="#fff"/>
<rect x="47" y="128" width="4" height="5" fill="#fff"/>
<rect x="53" y="128" width="3" height="5" fill="#fff"/>
<rect x="59" y="128" width="3" height="5" fill="#fff"/>
<rect x="65" y="128" width="3" height="5" fill="#fff"/>
<rect x="71" y="128" width="3" height="5" fill="#fff"/>
<rect x="76" y="128" width="3" height="5" fill="#fff"/>
<rect x="82" y="128" width="3" height="5" fill="#fff"/>
<rect x="42" y="136" width="3" height="5" fill="#fff"/>
<rect x="47" y="136" width="4" height="5" fill="#fff"/>
<rect x="53" y="136" width="3" height="5" fill="#fff"/>
<rect x="59" y="136" width="3" height="5" fill="#fff"/>
<rect x="65" y="136" width="3" height="5" fill="#fff"/>
<rect x="71" y="136" width="3" height="5" fill="#fff"/>
<rect x="76" y="136" width="3" height="5" fill="#fff"/>
<rect x="82" y="136" width="3" height="5" fill="#fff"/>
<rect x="36" y="136" width="3" height="5" fill="#fff"/>
<rect x="42" y="144" width="3" height="5" fill="#fff"/>
<rect x="47" y="144" width="4" height="5" fill="#fff"/>
<rect x="53" y="144" width="3" height="5" fill="#fff"/>
<rect x="59" y="144" width="3" height="5" fill="#fff"/>
<rect x="65" y="144" width="3" height="5" fill="#fff"/>
<rect x="71" y="144" width="3" height="5" fill="#fff"/>
<rect x="76" y="144" width="3" height="5" fill="#fff"/>
<rect x="82" y="144" width="3" height="5" fill="#fff"/>
<rect x="42" y="152" width="3" height="5" fill="#fff"/>
<rect x="47" y="152" width="4" height="5" fill="#fff"/>
<rect x="53" y="152" width="3" height="5" fill="#fff"/>
<rect x="59" y="152" width="3" height="5" fill="#fff"/>
<rect x="65" y="152" width="3" height="5" fill="#fff"/>
<rect x="71" y="152" width="3" height="5" fill="#fff"/>
<rect x="76" y="152" width="3" height="5" fill="#fff"/>
<rect x="82" y="152" width="3" height="5" fill="#fff"/>
<rect x="36" y="152" width="3" height="5" fill="#fff"/>
<rect x="98" y="126" width="50" height="33" fill="#000"/>
<rect x="93" y="134" width="5" height="25" fill="#000"/>
<rect x="93" y="145" width="1" height="4" fill="#fff"/>
<rect x="94" y="146" width="1" height="2" fill="#fff"/>
<rect x="101" y="128" width="3" height="5" fill="#fff"/>
<rect x="106" y="128" width="4" height="5" fill="#fff"/>
<rect x="112" y="128" width="3" height="5" fill="#fff"/>
<rect x="118" y="128" width="3" height="5" fill="#fff"/>
<rect x="124" y="128" width="3" height="5" fill="#fff"/>
<rect x="130" y="128" width="3" height="5" fill="#fff"/>
<rect x="135" y="128" width="3" height="5" fill="#fff"/>
<rect x="141" y="128" width="3" height="5" fill="#fff"/>
<rect x="101" y="136" width="3" height="5" fill="#fff"/>
<rect x="106" y="136" width="4" height="5" fill="#fff"/>
<rect x="112" y="136" width="3" height="5" fill="#fff"/>
<rect x="118" y="136" width="3" height="5" fill="#fff"/>
<rect x="124" y="136" width="3" height="5" fill="#fff"/>
<rect x="130" y="136" width="3" height="5" fill="#fff"/>
<rect x="135" y="136" width="3" height="5" fill="#fff"/>
<rect x="141" y="136" width="3" height="5" fill="#fff"/>
<rect x="95" y="136" width="3" height="5" fill="#fff"/>
<rect x="101" y="144" width="3" height="5" fill="#fff"/>
<rect x="106" y="144" width="4" height="5" fill="#fff"/>
<rect x="112" y="144" width="3" height="5" fill="#fff"/>
<rect x="118" y="144" width="3" height="5" fill="#fff"/>
<rect x="124" y="144" width="3" height="5" fill="#fff"/>
<rect x="130" y="144" width="3" height="5" fill="#fff"/>
<rect x="135" y="144" width="3" height="5" fill="#fff"/>
<rect x="141" y="144" width="3" height="5" fill="#fff"/>
<rect x="101" y="152" width="3" height="5" fill="#fff"/>
<rect x="106" y="152" width="4" height="5" fill="#fff"/>
<rect x="112" y="152" width="3" height="5" fill="#fff"/>
<rect x="118" y="152" width="3" height="5" fill="#fff"/>
<rect x="124" y="152" width="3" height="5" fill="#fff"/>
<rect x="130" y="152" width="3" height="5" fill="#fff"/>
<rect x="135" y="152" width="3" height="5" fill="#fff"/>
<rect x="141" y="152" width="3" height="5" fill="#fff"/>
<rect x="95" y="152" width="3" height="5" fill="#fff"/>
<rect x="157" y="126" width="50" height="33" fill="#000"/>
<rect x="152" y="134" width="5" height="25" fill="#000"/>
<rect x="152" y="145" width="1" height="4" fill="#fff"/>
<rect x="153" y="146" width="1" height="2" fill="#fff"/>
<rect x="160" y="128" width="3" height="5" fill="#fff"/>
<rect x="165" y="128" width="4" height="5" fill="#fff"/>
<rect x="171" y="128" width="3" height="5" fill="#fff"/>
<rect x="177" y="128" width="3" height="5" fill="#fff"/>
<rect x="183" y="128" width="3" height="5" fill="#fff"/>
<rect x="189" y="128" width="3" height="5" fill="#fff"/>
<rect x="194" y="128" width="3" height="5" fill="#fff"/>
<rect x="200" y="128" width="3" height="5" fill="#fff"/>
<rect x="160" y="136" width="3" height="5" fill="#fff"/>
<rect x="165" y="136" width="4" height="5" fill="#fff"/>
<rect x="171" y="136" width="3" height="5" fill="#fff"/>
<rect x="177" y="136" width="3" height="5" fill="#fff"/>
<rect x="183" y="136" width="3" height="5" fill="#fff"/>
<rect x="189" y="136" width="3" height="5" fill="#fff"/>
<rect x="194" y="136" width="3" height="5" fill="#fff"/>
<rect x="200" y="136" width="3" height="5" fill="#fff"/>
<rect x="154" y="136" width="3" height="5" fill="#fff"/>
<rect x="160" y="144" width="3" height="5" fill="#fff"/>
<rect x="165" y="144" width="4" height="5" fill="#fff"/>
<rect x="171" y="144" width="3" height="5" fill="#fff"/>
<rect x="177" y="144" width="3" height="5" fill="#fff"/>
<rect x="183" y="144" width="3" height="5" fill="#fff"/>
<rect x="189" y="144" width="3" height="5" fill="#fff"/>
<rect x="194" y="144" width="3" height="5" fill="#fff"/>
<rect x="200" y="144" width="3" height="5" fill="#fff"/>
<rect x="160" y="152" width="3" height="5" fill="#fff"/>
<rect x="165" y="152" width="4" height="5" fill="#fff"/>
<rect x="171" y="152" width="3" height="5" fill="#fff"/>
<rect x="177" y="152" width="3" height="5" fill="#fff"/>
<rect x="183" y="152" width="3" height="5" fill="#fff"/>
<rect x="189" y="152" width="3" height="5" fill="#fff"/>
<rect x="194" y="152" width="3" height="5" fill="#fff"/>
<rect x="200" y="152" width="3" height="5" fill="#fff"/>
<rect x="154" y="152" width="3" height="5" fill="#fff"/>
<rect x="216" y="126" width="50" height="33" fill="#000"/>
<rect x="211" y="134" width="5" height="25" fill="#000"/>
<rect x="211" y="145" width="1" height="4" fill="#fff"/>
<rect x="212" y="146" width="1" height="2" fill="#fff"/>
<rect x="219" y="128" width="3" height="5" fill="#fff"/>
<rect x="224" y="128" width="4" height="5" fill="#fff"/>
<rect x="230" y="128" width="3" height="5" fill="#fff"/>
<rect x="236" y="128" width="3" height="5" fill="#fff"/>
<rect x="242" y="128" width="3" height="5" fill="#fff"/>
<rect x="248" y="128" width="3" height="5" fill="#fff"/>
<rect x="253" y="128" width="3" height="5" fill="#fff"/>
<rect x="259" y="128" width="3" height="5" fill="#fff"/>
<rect x="219" y="136" width="3" height="5" fill="#fff"/>
<rect x="224" y="136" width="4" height="5" fill="#fff"/>
<rect x="230" y="136" width="3" height="5" fill="#fff"/>
<rect x="236" y="136" width="3" height="5" fill="#fff"/>
<rect x="242" y="136" width="3" height="5" fill="#fff"/>
<rect x="248" y="136" width="3" height="5" fill="#fff"/>
<rect x="253" y="136" width="3" height="5" fill="#fff"/>
<rect x="259" y="136" width="3" height="5" fill="#fff"/>
<rect x="213" y="136" width="3" height="5" fill="#fff"/>
<rect x="219" y="144" width="3" height="5" fill="#fff"/>
<rect x="224" y="144" width="4" height="5" fill="#fff"/>
<rect x="230" y="144" width="3" height="5" fill="#fff"/>
<rect x="236" y="144" width="3" height="5" fill="#fff"/>
<rect x="242" y="144" width="3" height="5" fill="#fff"/>
<rect x="248" y="144" width="3" height="5" fill="#fff"/>
<rect x="253" y="144" width="3" height="5" fill="#fff"/>
<rect x="259" y="144" width="3" height="5" fill="#fff"/>
<rect x="219" y="152" width="3" height="5" fill="#fff"/>
<rect x="224" y="152" width="4" height="5" fill="#fff"/>
<rect x="230" y="152" width="3" height="5" fill="#fff"/>
<rect x="236" y="152" width="3" height="5" fill="#fff"/>
<rect x="242" y="152" width="3" height="5" fill="#fff"/>
<rect x="248" y="152" width="3" height="5" fill="#fff"/>
<rect x="253" y="152" width="3" height="5" fill="#fff"/>
<rect x="259" y="152" width="3" height="5" fill="#fff"/>
<rect x="213" y="152" width="3" height="5" fill="#fff"/>
<rect x="276" y="126" width="50" height="33" fill="#000"/>
<rect x="271" y="134" width="5" height="25" fill="#000"/>
<rect x="271" y="145" width="1" height="4" fill="#fff"/>
<rect x="272" y="146" width="1" height="2" fill="#fff"/>
<rect x="279" y="128" width="3" height="5" fill="#fff"/>
<rect x="284" y="128" width="4" height="5" fill="#fff"/>
<rect x="290" y="128" width="3" height="5" fill="#fff"/>
<rect x="296" y="128" width="3" height="5" fill="#fff"/>
<rect x="302" y="128" width="3" height="5" fill="#fff"/>
<rect x="308" y="128" width="3" height="5" fill="#fff"/>
<rect x="313" y="128" width="3" height="5" fill="#fff"/>
<rect x="319" y="128" width="3" height="5" fill="#fff"/>
<rect x="279" y="136" width="3" height="5" fill="#fff"/>
<rect x="284" y="136" width="4" height="5" fill="#fff"/>
<rect x="290" y="136" width="3" height="5" fill="#fff"/>
<rect x="296" y="136" width="3" height="5" fill="#fff"/>
<rect x="302" y="136" width="3" height="5" fill="#fff"/>
<rect x="308" y="136" width="3" height="5" fill="#fff"/>
<rect x="313" y="136" width="3" height="5" fill="#fff"/>
<rect x="319" y="136" width="3" height="5" fill="#fff"/>
<rect x="273" y="136" width="3" height="5" fill="#fff"/>
<rect x="279" y="144" width="3" height="5" fill="#fff"/>
<rect x="284" y="144" width="4" height="5" fill="#fff"/>
<rect x="290" y="144" width="3" height="5" fill="#fff"/>
<rect x="296" y="144" width="3" height="5" fill="#fff"/>
<rect x="302" y="144" width="3" height="5" fill="#fff"/>
<rect x="308" y="144" width="3" height="5" fill="#fff"/>
<rect x="313" y="144" width="3" height="5" fill="#fff"/>
<rect x="319" y="144" width="3" height="5" fill="#fff"/>
<rect x="279" y="152" width="3" height="5" fill="#fff"/>
<rect x="284" y="152" width="4" height="5" fill="#fff"/>
<rect x="290" y="152" width="3" height="5" fill="#fff"/>
<rect x="296" y="152" width="3" height="5" fill="#fff"/>
<rect x="302" y="152" width="3" height="5" fill="#fff"/>
<rect x="308" y="152" width="3" height="5" fill="#fff"/>
<rect x="313" y="152" width="3" height="5" fill="#fff"/>
<rect x="319" y="152" width="3" height="5" fill="#fff"/>
<rect x="273" y="152" width="3" height="5" fill="#fff"/>
<rect x="336" y="126" width="50" height="33" fill="#000"/>
<rect x="331" y="134" width="5" height="25" fill="#000"/>
<rect x="331" y="145" width="1" height="4" fill="#fff"/>
<rect x="332" y="146" width="1" height="2" fill="#fff"/>
<rect x="339" y="128" width="3" height="5" fill="#fff"/>
<rect x="344" y="128" width="4" height="5" fill="#fff"/>
<rect x="350" y="128" width="3" height="5" fill="#fff"/>
<rect x="356" y="128" width="3" height="5" fill="#fff"/>
<rect x="362" y="128" width="3" height="5" fill="#fff"/>
<rect x="368" y="128" width="3" height="5" fill="#fff"/>
<rect x="373" y="128" width="3" height="5" fill="#fff"/>
<rect x="379" y="128" width="3" height="5" fill="#fff"/>
<rect x="339" y="136" width="3" height="5" fill="#fff"/>
<rect x="344" y="136" width="4" height="5" fill="#fff"/>
<rect x="350" y="136" width="3" height="5" fill="#fff"/>
<rect x="356" y="136" width="3" height="5" fill="#fff"/>
<rect x="362" y="136" width="3" height="5" fill="#fff"/>
<rect x="368" y="136" width="3" height="5" fill="#fff"/>
<rect x="373" y="136" width="3" height="5" fill="#fff"/>
<rect x="379" y="136" width="3" height="5" fill="#fff"/>
<rect x="333" y="136" width="3" height="5" fill="#fff"/>
<rect x="339" y="144" width="3" height="5" fill="#fff"/>
<rect x="344" y="144" width="4" height="5" fill="#fff"/>
<rect x="350" y="144" width="3" height="5" fill="#fff"/>
<rect x="356" y="144" width="3" height="5" fill="#fff"/>
<rect x="362" y="144" width="3" height="5" fill="#fff"/>
<rect x="368" y="144" width="3" height="5" fill="#fff"/>
<rect x="373" y="144" width="3" height="5" fill="#fff"/>
<rect x="379" y="144" width="3" height="5" fill="#fff"/>
<rect x="339" y="152" width="3" height="5" fill="#fff"/>
<rect x="344" y="152" width="4" height="5" fill="#fff"/>
<rect x="350" y="152" width="3" height="5" fill="#fff"/>
<rect x="356" y="152" width="3" height="5" fill="#fff"/>
<rect x="362" y="152" width="3" height="5" fill="#fff"/>
<rect x="368" y="152" width="3" height="5" fill="#fff"/>
<rect x="373" y="152" width="3" height="5" fill="#fff"/>
<rect x="379" y="152" width="3" height="5" fill="#fff"/>
<rect x="333" y="152" width="3" height="5" fill="#fff"/>
<rect x="39" y="161" width="50" height="33" fill="#000"/>
<rect x="34" y="169" width="5" height="25" fill="#000"/>
<rect x="34" y="180" width="1" height="4" fill="#fff"/>
<rect x="35" y="181" width="1" height="2" fill="#fff"/>
<rect x="42" y="163" width="3" height="5" fill="#fff"/>
<rect x="47" y="163" width="4" height="5" fill="#fff"/>
<rect x="53" y="163" width="3" height="5" fill="#fff"/>
<rect x="59" y="163" width="3" height="5" fill="#fff"/>
<rect x="65" y="163" width="3" height="5" fill="#fff"/>
<rect x="71" y="163" width="3" height="5" fill="#fff"/>
<rect x="76" y="163" width="3" height="5" fill="#fff"/>
<rect x="82" y="163" width="3" height="5" fill="#fff"/>
<rect x="42" y="171" width="3" height="5" fill="#fff"/>
<rect x="47" y="171" width="4" height="5" fill="#fff"/>
<rect x="53" y="171" width="3" height="5" fill="#fff"/>
<rect x="59" y="171" width="3" height="5" fill="#fff"/>
<rect x="65" y="171" width="3" height="5" fill="#fff"/>
<rect x="71" y="171" width="3" height="5" fill="#fff"/>
<rect x="76" y="171" width="3" height="5" fill="#fff"/>
<rect x="82" y="171" width="3" height="5" fill="#fff"/>
<rect x="36" y="171" width="3" height="5" fill="#fff"/>
<rect x="42" y="179" width="3" height="5" fill="#fff"/>
<rect x="47" y="179" width="4" height="5" fill="#fff"/>
<rect x="53" y="179" width="3" height="5" fill="#fff"/>
<rect x="59" y="179" width="3" height="5" fill="#fff"/>
<rect x="65" y="179" width="3" height="5" fill="#fff"/>
<rect x="71" y="179" width="3" height="5" fill="#fff"/>
<rect x="76" y="179" width="3" height="5" fill="#fff"/>
<rect x="82" y="179" width="3" height="5" fill="#fff"/>
<rect x="42" y="187" width="3" height="5" fill="#fff"/>
<rect x="47" y="187" width="4" height="5" fill="#fff"/>
<rect x="53" y="187" width="3" height="5" fill="#fff"/>
<rect x="59" y="187" width="3" height="5" fill="#fff"/>
<rect x="65" y="187" width="3" height="5" fill="#fff"/>
<rect x="71" y="187" width="3" height="5" fill="#fff"/>
<rect x="76" y="187" width="3" height="5" fill="#fff"/>
<rect x="82" y="187" width="3" height="5" fill="#fff"/>
<rect x="36" y="187" width="3" height="5" fill="#fff"/>
<rect x="98" y="161" width="50" height="33" fill="#000"/>
<rect x="93" y="169" width="5" height="25" fill="#000"/>
<rect x="93" y="180" width="1" height="4" fill="#fff"/>
<rect x="94" y="181" width="1" height="2" fill="#fff"/>
<rect x="101" y="163" width="3" height="5" fill="#fff"/>
<rect x="106" y="163" width="4" height="5" fill="#fff"/>
<rect x="112" y="163" width="3" height="5" fill="#fff"/>
<rect x="118" y="163" width="3" height="5" fill="#fff"/>
<rect x="124" y="163" width="3" height="5" fill="#fff"/>
<rect x="130" y="163" width="3" height="5" fill="#fff"/>
<rect x="135" y="163" width="3" height="5" fill="#fff"/>
<rect x="141" y="163" width="3" height="5" fill="#fff"/>
<rect x="101" y="171" width="3" height="5" fill="#fff"/>
<rect x="106" y="171" width="4" height="5" fill="#fff"/>
<rect x="112" y="171" width="3" height="5" fill="#fff"/>
<rect x="118" y="171" width="3" height="5" fill="#fff"/>
<rect x="124" y="171" width="3" height="5" fill="#fff"/>
<rect x="130" y="171" width="3" height="5" fill="#fff"/>
<rect x="135" y="171" width="3" height="5" fill="#fff"/>
<rect x="141" y="171" width="3" height="5" fill="#fff"/>
<rect x="95" y="171" width="3" height="5" fill="#fff"/>
<rect x="101" y="179" width="3" height="5" fill="#fff"/>
<rect x="106" y="179" width="4" height="5" fill="#fff"/>
<rect x="112" y="179" width="3" height="5" fill="#fff"/>
<rect x="118" y="179" width="3" height="5" fill="#fff"/>
<rect x="124" y="179" width="3" height="5" fill="#fff"/>
<rect x="130" y="179" width="3" height="5" fill="#fff"/>
<rect x="135" y="179" width="3" height="5" fill="#fff"/>
<rect x="141" y="179" width="3" height="5" fill="#fff"/>
<rect x="101" y="187" width="3" height="5" fill="#fff"/>
<rect x="106" y="187" width="4" height="5" fill="#fff"/>
<rect x="112" y="187" width="3" height="5" fill="#fff"/>
<rect x="118" y="187" width="3" height="5" fill="#fff"/>
<rect x="124" y="187" width="3" height="5" fill="#fff"/>
<rect x="130" y="187" width="3" height="5" fill="#fff"/>
<rect x="135" y="187" width="3" height="5" fill="#fff"/>
<rect x="141" y="187" width="3" height="5" fill="#fff"/>
<rect x="95" y="187" width="3" height="5" fill="#fff"/>
<rect x="157" y="161" width="50" height="33" fill="#000"/>
<rect x="152" y="169" width="5" height="25" fill="#000"/>
<rect x="152" y="180" width="1" height="4" fill="#fff"/>
<rect x="153" y="181" width="1" height="2" fill="#fff"/>
<rect x="160" y="163" width="3" height="5" fill="#fff"/>
<rect x="165" y="163" width="4" height="5" fill="#fff"/>
<rect x="171" y="163" width="3" height="5" fill="#fff"/>
<rect x="177" y="163" width="3" height="5" fill="#fff"/>
<rect x="183" y="163" width="3" height="5" fill="#fff"/>
<rect x="189" y="163" width="3" height="5" fill="#fff"/>
<rect x="194" y="163" width="3" height="5" fill="#fff"/>
<rect x="200" y="163" width="3" height="5" fill="#fff"/>
<rect x="160" y="171" width="3" height="5" fill="#fff"/>
<rect x="165" y="171" width="4" height="5" fill="#fff"/>
<rect x="171" y="171" width="3" height="5" fill="#fff"/>
<rect x="177" y="171" width="3" height="5" fill="#fff"/>
<rect x="183" y="171" width="3" height="5" fill="#fff"/>
<rect x="189" y="171" width="3" height="5" fill="#fff"/>
<rect x="194" y="171" width="3" height="5" fill="#fff"/>
<rect x="200" y="171" width="3" height="5" fill="#fff"/>
<rect x="154" y="171" width="3" height="5" fill="#fff"/>
<rect x="160" y="179" width="3" height="5" fill="#fff"/>
<rect x="165" y="179" width="4" height="5" fill="#fff"/>
<rect x="171" y="179" width="3" height="5" fill="#fff"/>
<rect x="177" y="179" width="3" height="5" fill="#fff"/>
<rect x="183" y="179" width="3" height="5" fill="#fff"/>
<rect x="189" y="179" width="3" height="5" fill="#fff"/>
<rect x="194" y="179" width="3" height="5" fill="#fff"/>
<rect x="200" y="179" width="3" height="5" fill="#fff"/>
<rect x="160" y="187" width="3" height="5" fill="#fff"/>
<rect x="165" y="187" width="4" height="5" fill="#fff"/>
<rect x="171" y="187" width="3" height="5" fill="#fff"/>
<rect x="177" y="187" width="3" height="5" fill="#fff"/>
<rect x="183" y="187" width="3" height="5" fill="#fff"/>
<rect x="189" y="187" width="3" height="5" fill="#fff"/>
<rect x="194" y="187" width="3" height="5" fill="#fff"/>
<rect x="200" y="187" width="3" height="5" fill="#fff"/>
<rect x="154" y="187" width="3" height="5" fill="#fff"/>
<rect x="216" y="161" width="50" height="33" fill="#000"/>
<rect x="211" y="169" width="5" height="25" fill="#000"/>
<rect x="211" y="180" width="1" height="4" fill="#fff"/>
<rect x="212" y="181" width="1" height="2" fill="#fff"/>
<rect x="219" y="163" width="3" height="5" fill="#fff"/>
<rect x="224" y="163" width="4" height="5" fill="#fff"/>
<rect x="230" y="163" width="3" height="5" fill="#fff"/>
<rect x="236" y="163" width="3" height="5" fill="#fff"/>
<rect x="242" y="163" width="3" height="5" fill="#fff"/>
<rect x="248" y="163" width="3" height="5" fill="#fff"/>
<rect x="253" y="163" width="3" height="5" fill="#fff"/>
<rect x="259" y="163" width="3" height="5" fill="#fff"/>
<rect x="219" y="171" width="3" height="5" fill="#fff"/>
<rect x="224" y="171" width="4" height="5" fill="#fff"/>
<rect x="230" y="171" width="3" height="5" fill="#fff"/>
<rect x="236" y="171" width="3" height="5" fill="#fff"/>
<rect x="242" y="171" width="3" height="5" fill="#fff"/>
<rect x="248" y="171" width="3" height="5" fill="#fff"/>
<rect x="253" y="171" width="3" height="5" fill="#fff"/>
<rect x="259" y="171" width="3" height="5" fill="#fff"/>
<rect x="213" y="171" width="3" height="5" fill="#fff"/>
<rect x="219" y="179" width="3" height="5" fill="#fff"/>
<rect x="224" y="179" width="4" height="5" fill="#fff"/>
<rect x="230" y="179" width="3" height="5" fill="#fff"/>
<rect x="236" y="179" width="3" height="5" fill="#fff"/>
<rect x="242" y="179" width="3" height="5" fill="#fff"/>
<rect x="248" y="179" width="3" height="5" fill="#fff"/>
<rect x="253" y="179" width="3" height="5" fill="#fff"/>
<rect x="259" y="179" width="3" height="5" fill="#fff"/>
<rect x="219" y="187" width="3" height="5" fill="#fff"/>
<rect x="224" y="187" width="4" height="5" fill="#fff"/>
<rect x="230" y="187" width="3" height="5" fill="#fff"/>
<rect x="236" y="187" width="3" height="5" fill="#fff"/>
<rect x="242" y="187" width="3" height="5" fill="#fff"/>
<rect x="248" y="187" width="3" height="5" fill="#fff"/>
<rect x="253" y="187" width="3" height="5" fill="#fff"/>
<rect x="259" y="187" width="3" height="5" fill="#fff"/>
<rect x="213" y="187" width="3" height="5" fill="#fff"/>
<rect x="276" y="161" width="50" height="33" fill="#000"/>
<rect x="271" y="169" width="5" height="25" fill="#000"/>
<rect x="271" y="180" width="1" height="4" fill="#fff"/>
<rect x="272" y="181" width="1" height="2" fill="#fff"/>
<rect x="279" y="163" width="3" height="5" fill="#fff"/>
<rect x="284" y="163" width="4" height="5" fill="#fff"/>
<rect x="290" y="163" width="3" height="5" fill="#fff"/>
<rect x="296" y="163" width="3" height="5" fill="#fff"/>
<rect x="302" y="163" width="3" height="5" fill="#fff"/>
<rect x="308" y="163" width="3" height="5" fill="#fff"/>
<rect x="313" y="163" width="3" height="5" fill="#fff"/>
<rect x="319" y="163" width="3" height="5" fill="#fff"/>
<rect x="279" y="171" width="3" height="5" fill="#fff"/>
<rect x="284" y="171" width="4" height="5" fill="#fff"/>
<rect x="290" y="171" width="3" height="5" fill="#fff"/>
<rect x="296" y="171" width="3" height="5" fill="#fff"/>
<rect x="302" y="171" width="3" height="5" fill="#fff"/>
<rect x="308" y="171" width="3" height="5" fill="#fff"/>
<rect x="313" y="171" width="3" height="5" fill="#fff"/>
<rect x="319" y="171" width="3" height="5" fill="#fff"/>
<rect x="273" y="171" width="3" height="5" fill="#fff"/>
<rect x="279" y="179" width="3" height="5" fill="#fff"/>
<rect x="284" y="179" width="4" height="5" fill="#fff"/>
<rect x="290" y="179" width="3" height="5" fill="#fff"/>
<rect x="296" y="179" width="3" height="5" fill="#fff"/>
<rect x="302" y="179" width="3" height="5" fill="#fff"/>
<rect x="308" y="179" width="3" height="5" fill="#fff"/>
<rect x="313" y="179" width="3" height="5" fill="#fff"/>
<rect x="319" y="179" width="3" height="5" fill="#fff"/>
<rect x="279" y="187" width="3" height="5" fill="#fff"/>
<rect x="284" y="187" width="4" height="5" fill="#fff"/>
<rect x="290" y="187" width="3" height="5" fill="#fff"/>
<rect x="296" y="187" width="3" height="5" fill="#fff"/>
<rect x="302" y="187" width="3" height="5" fill="#fff"/>
<rect x="308" y="187" width="3" height="5" fill="#fff"/>
<rect x="313" y="187" width="3" height="5" fill="#fff"/>
<rect x="319" y="187" width="3" height="5" fill="#fff"/>
<rect x="273" y="187" width="3" height="5" fill="#fff"/>
<rect x="336" y="161" width="50" height="33" fill="#000"/>
<rect x="331" y="169" width="5" height="25" fill="#000"/>
<rect x="331" y="180" width="1" height="4" fill="#fff"/>
<rect x="332" y="181" width="1" height="2" fill="#fff"/>
<rect x="339" y="163" width="3" height="5" fill="#fff"/>
<rect x="344" y="163" width="4" height="5" fill="#fff"/>
<rect x="350" y="163" width="3" height="5" fill="#fff"/>
<rect x="356" y="163" width="3" height="5" fill="#fff"/>
<rect x="362" y="163" width="3" height="5" fill="#fff"/>
<rect x="368" y="163" width="3" height="5" fill="#fff"/>
<rect x="373" y="163" width="3" height="5" fill="#fff"/>
<rect x="379" y="163" width="3" height="5" fill="#fff"/>
<rect x="339" y="171" width="3" height="5" fill="#fff"/>
<rect x="344" y="171" width="4" height="5" fill="#fff"/>
<rect x="350" y="171" width="3" height="5" fill="#fff"/>
<rect x="356" y="171" width="3" height="5" fill="#fff"/>
<rect x="362" y="171" width="3" height="5" fill="#fff"/>
<rect x="368" y="171" width="3" height="5" fill="#fff"/>
<rect x="373" y="171" width="3" height="5" fill="#fff"/>
<rect x="379" y="171" width="3" height="5" fill="#fff"/>
<rect x="333" y="171" width="3" height="5" fill="#fff"/>
<rect x="339" y="179" width="3" height="5" fill="#fff"/>
<rect x="344" y="179" width="4" height="5" fill="#fff"/>
<rect x="350" y="179" width="3" height="5" fill="#fff"/>
<rect x="356" y="179" width="3" height="5" fill="#fff"/>
<rect x="362" y="179" width="3" height="5" fill="#fff"/>
<rect x="368" y="179" width="3" height="5" fill="#fff"/>
<rect x="373" y="179" width="3" height="5" fill="#fff"/>
<rect x="379" y="179" width="3" height="5" fill="#fff"/>
<rect x="339" y="187" width="3" height="5" fill="#fff"/>
<rect x="344" y="187" width="4" height="5" fill="#fff"/>
<rect x="350" y="187" width="3" height="5" fill="#fff"/>
<rect x="356" y="187" width="3" height="5" fill="#fff"/>
<rect x="362" y="187" width="3" height="5" fill="#fff"/>
<rect x="368" y="187" width="3" height="5" fill="#fff"/>
<rect x="373" y="187" width="3" height="5" fill="#fff"/>
<rect x="379" y="187" width="3" height="5" fill="#fff"/>
<rect x="333" y="187" width="3" height="5" fill="#fff"/>
<rect x="39" y="197" width="50" height="33" fill="#000"/>
<rect x="34" y="205" width="5" height="25" fill="#000"/>
<rect x="34" y="216" width="1" height="4" fill="#fff"/>
<rect x="35" y="217" width="1" height="2" fill="#fff"/>
<rect x="42" y="199" width="3" height="5" fill="#fff"/>
<rect x="47" y="199" width="4" height="5" fill="#fff"/>
<rect x="53" y="199" width="3" height="5" fill="#fff"/>
<rect x="59" y="199" width="3" height="5" fill="#fff"/>
<rect x="65" y="199" width="3" height="5" fill="#fff"/>
<rect x="71" y="199" width="3" height="5" fill="#fff"/>
<rect x="76" y="199" width="3" height="5" fill="#fff"/>
<rect x="82" y="199" width="3" height="5" fill="#fff"/>
<rect x="42" y="207" width="3" height="5" fill="#fff"/>
<rect x="47" y="207" width="4" height="5" fill="#fff"/>
<rect x="53" y="207" width="3" height="5" fill="#fff"/>
<rect x="59" y="207" width="3" height="5" fill="#fff"/>
<rect x="65" y="207" width="3" height="5" fill="#fff"/>
<rect x="71" y="207" width="3" height="5" fill="#fff"/>
<rect x="76" y="207" width="3" height="5" fill="#fff"/>
<rect x="82" y="207" width="3" height="5" fill="#fff"/>
<rect x="36" y="207" width="3" height="5" fill="#fff"/>
<rect x="42" y="215" width="3" height="5" fill="#fff"/>
<rect x="47" y="215" width="4" height="5" fill="#fff"/>
<rect x="53" y="215" width="3" height="5" fill="#fff"/>
<rect x="59" y="215" width="3" height="5" fill="#fff"/>
<rect x="65" y="215" width="3" height="5" fill="#fff"/>
<rect x="71" y="215" width="3" height="5" fill="#fff"/>
<rect x="76" y="215" width="3" height="5" fill="#fff"/>
<rect x="82" y="215" width="3" height="5" fill="#fff"/>
<rect x="42" y="223" width="3" height="5" fill="#fff"/>
<rect x="47" y="223" width="4" height="5" fill="#fff"/>
<rect x="53" y="223" width="3" height="5" fill="#fff"/>
<rect x="59" y="223" width="3" height="5" fill="#fff"/>
<rect x="65" y="223" width="3" height="5" fill="#fff"/>
<rect x="71" y="223" width="3" height="5" fill="#fff"/>
<rect x="76" y="223" width="3" height="5" fill="#fff"/>
<rect x="82" y="223" width="3" height="5" fill="#fff"/>
<rect x="36" y="223" width="3" height="5" fill="#fff"/>
<rect x="98" y="197" width="50" height="33" fill="#000"/>
<rect x="93" y="205" width="5" height="25" fill="#000"/>
<rect x="93" y="216" width="1" height="4" fill="#fff"/>
<rect x="94" y="217" width="1" height="2" fill="#fff"/>
<rect x="101" y="199" width="3" height="5" fill="#fff"/>
<rect x="106" y="199" width="4" height="5" fill="#fff"/>
<rect x="112" y="199" width="3" height="5" fill="#fff"/>
<rect x="118" y="199" width="3" height="5" fill="#fff"/>
<rect x="124" y="199" width="3" height="5" fill="#fff"/>
<rect x="130" y="199" width="3" height="5" fill="#fff"/>
<rect x="135" y="199" width="3" height="5" fill="#fff"/>
<rect x="141" y="199" width="3" height="5" fill="#fff"/>
<rect x="101" y="207" width="3" height="5" fill="#fff"/>
<rect x="106" y="207" width="4" height="5" fill="#fff"/>
<rect x="112" y="207" width="3" height="5" fill="#fff"/>
<rect x="118" y="207" width="3" height="5" fill="#fff"/>
<rect x="124" y="207" width="3" height="5" fill="#fff"/>
<rect x="130" y="207" width="3" height="5" fill="#fff"/>
<rect x="135" y="207" width="3" height="5" fill="#fff"/>
<rect x="141" y="207" width="3" height="5" fill="#fff"/>
<rect x="95" y="207" width="3" height="5" fill="#fff"/>
<rect x="101" y="215" width="3" height="5" fill="#fff"/>
<rect x="106" y="215" width="4" height="5" fill="#fff"/>
<rect x="112" y="215" width="3" height="5" fill="#fff"/>
<rect x="118" y="215" width="3" height="5" fill="#fff"/>
<rect x="124" y="215" width="3" height="5" fill="#fff"/>
<rect x="130" y="215" width="3" height="5" fill="#fff"/>
<rect x="135" y="215" width="3" height="5" fill="#fff"/>
<rect x="141" y="215" width="3" height="5" fill="#fff"/>
<rect x="101" y="223" width="3" height="5" fill="#fff"/>
<rect x="106" y="223" width="4" height="5" fill="#fff"/>
<rect x="112" y="223" width="3" height="5" fill="#fff"/>
<rect x="118" y="223" width="3" height="5" fill="#fff"/>
<rect x="124" y="223" width="3" height="5" fill="#fff"/>
<rect x="130" y="223" width="3" height="5" fill="#fff"/>
<rect x="135" y="223" width="3" height="5" fill="#fff"/>
<rect x="141" y="223" width="3" height="5" fill="#fff"/>
<rect x="95" y="223" width="3" height="5" fill="#fff"/>
<rect x="157" y="197" width="50" height="33" fill="#000"/>
<rect x="152" y="205" width="5" height="25" fill="#000"/>
<rect x="152" y="216" width="1" height="4" fill="#fff"/>
<rect x="153" y="217" width="1" height="2" fill="#fff"/>
<rect x="160" y="199" width="3" height="5" fill="#fff"/>
<rect x="165" y="199" width="4" height="5" fill="#fff"/>
<rect x="171" y="199" width="3" height="5" fill="#fff"/>
<rect x="177" y="199" width="3" height="5" fill="#fff"/>
<rect x="183" y="199" width="3" height="5" fill="#fff"/>
<rect x="189" y="199" width="3" height="5" fill="#fff"/>
<rect x="194" y="199" width="3" height="5" fill="#fff"/>
<rect x="200" y="199" width="3" height="5" fill="#fff"/>
<rect x="160" y="207" width="3" height="5" fill="#fff"/>
<rect x="165" y="207" width="4" height="5" fill="#fff"/>
<rect x="171" y="207" width="3" height="5" fill="#fff"/>
<rect x="177" y="207" width="3" height="5" fill="#fff"/>
<rect x="183" y="207" width="3" height="5" fill="#fff"/>
<rect x="189" y="207" width="3" height="5" fill="#fff"/>
<rect x="194" y="207" width="3" height="5" fill="#fff"/>
<rect x="200" y="207" width="3" height="5" fill="#fff"/>
<rect x="154" y="207" width="3" height="5" fill="#fff"/>
<rect x="160" y="215" width="3" height="5" fill="#fff"/>
<rect x="165" y="215" width="4" height="5" fill="#fff"/>
<rect x="171" y="215" width="3" height="5" fill="#fff"/>
<rect x="177" y="215" width="3" height="5" fill="#fff"/>
<rect x="183" y="215" width="3" height="5" fill="#fff"/>
<rect x="189" y="215" width="3" height="5" fill="#fff"/>
<rect x="194" y="215" width="3" height="5" fill="#fff"/>
<rect x="200" y="215" width="3" height="5" fill="#fff"/>
<rect x="160" y="223" width="3" height="5" fill="#fff"/>
<rect x="165" y="223" width="4" height="5" fill="#fff"/>
<rect x="171" y="223" width="3" height="5" fill="#fff"/>
<rect x="177" y="223" width="3" height="5" fill="#fff"/>
<rect x="183" y="223" width="3" height="5" fill="#fff"/>
<rect x="189" y="223" width="3" height="5" fill="#fff"/>
<rect x="194" y="223" width="3" height="5" fill="#fff"/>
<rect x="200" y="223" width="3" height="5" fill="#fff"/>
<rect x="154" y="223" width="3" height="5" fill="#fff"/>
<rect x="216" y="197" width="50" height="33" fill="#000"/>
<rect x="211" y="205" width="5" height="25" fill="#000"/>
<rect x="211" y="216" width="1" height="4" fill="#fff"/>
<rect x="212" y="217" width="1" height="2" fill="#fff"/>
<rect x="219" y="199" width="3" height="5" fill="#fff"/>
<rect x="224" y="199" width="4" height="5" fill="#fff"/>
<rect x="230" y="199" width="3" height="5" fill="#fff"/>
<rect x="236" y="199" width="3" height="5" fill="#fff"/>
<rect x="242" y="199" width="3" height="5" fill="#fff"/>
<rect x="248" y="199" width="3" height="5" fill="#fff"/>
<rect x="253" y="199" width="3" height="5" fill="#fff"/>
<rect x="259" y="199" width="3" height="5" fill="#fff"/>
<rect x="219" y="207" width="3" height="5" fill="#fff"/>
<rect x="224" y="207" width="4" height="5" fill="#fff"/>
<rect x="230" y="207" width="3" height="5" fill="#fff"/>
<rect x="236" y="207" width="3" height="5" fill="#fff"/>
<rect x="242" y="207" width="3" height="5" fill="#fff"/>
<rect x="248" y="207" width="3" height="5" fill="#fff"/>
<rect x="253" y="207" width="3" height="5" fill="#fff"/>
<rect x="259" y="207" width="3" height="5" fill="#fff"/>
<rect x="213" y="207" width="3" height="5" fill="#fff"/>
<rect x="219" y="215" width="3" height="5" fill="#fff"/>
<rect x="224" y="215" width="4" height="5" fill="#fff"/>
<rect x="230" y="215" width="3" height="5" fill="#fff"/>
<rect x="236" y="215" width="3" height="5" fill="#fff"/>
<rect x="242" y="215" width="3" height="5" fill="#fff"/>
<rect x="248" y="215" width="3" height="5" fill="#fff"/>
<rect x="253" y="215" width="3" height="5" fill="#fff"/>
<rect x="259" y="215" width="3" height="5" fill="#fff"/>
<rect x="219" y="223" width="3" height="5" fill="#fff"/>
<rect x="224" y="223" width="4" height="5" fill="#fff"/>
<rect x="230" y="223" width="3" height="5" fill="#fff"/>
<rect x="236" y="223" width="3" height="5" fill="#fff"/>
<rect x="242" y="223" width="3" height="5" fill="#fff"/>
<rect x="248" y="223" width="3" height="5" fill="#fff"/>
<rect x="253" y="223" width="3" height="5" fill="#fff"/>
<rect x="259" y="223" width="3" height="5" fill="#fff"/>
<rect x="213" y="223" width="3" height="5" fill="#fff"/>
<rect x="276" y="197" width="50" height="33" fill="#000"/>
<rect x="271" y="205" width="5" height="25" fill="#000"/>
<rect x="271" y="216" width="1" height="4" fill="#fff"/>
<rect x="272" y="217" width="1" height="2" fill="#fff"/>
<rect x="279" y="199" width="3" height="5" fill="#fff"/>
<rect x="284" y="199" width="4" height="5" fill="#fff"/>
<rect x="290" y="199" width="3" height="5" fill="#fff"/>
<rect x="296" y="199" width="3" height="5" fill="#fff"/>
<rect x="302" y="199" width="3" height="5" fill="#fff"/>
<rect x="308" y="199" width="3" height="5" fill="#fff"/>
<rect x="313" y="199" width="3" height="5" fill="#fff"/>
<rect x="319" y="199" width="3" height="5" fill="#fff"/>
<rect x="279" y="207" width="3" height="5" fill="#fff"/>
<rect x="284" y="207" width="4" height="5" fill="#fff"/>
<rect x="290" y="207" width="3" height="5" fill="#fff"/>
<rect x="296" y="207" width="3" height="5" fill="#fff"/>
<rect x="302" y="207" width="3" height="5" fill="#fff"/>
<rect x="308" y="207" width="3" height="5" fill="#fff"/>
<rect x="313" y="207" width="3" height="5" fill="#fff"/>
<rect x="319" y="207" width="3" height="5" fill="#fff"/>
<rect x="273" y="207" width="3" height="5" fill="#fff"/>
<rect x="279" y="215" width="3" height="5" fill="#fff"/>
<rect x="284" y="215" width="4" height="5" fill="#fff"/>
<rect x="290" y="215" width="3" height="5" fill="#fff"/>
<rect x="296" y="215" width="3" height="5" fill="#fff"/>
<rect x="302" y="215" width="3" height="5" fill="#fff"/>
<rect x="308" y="215" width="3" height="5" fill="#fff"/>
<rect x="313" y="215" width="3" height="5" fill="#fff"/>
<rect x="319" y="215" width="3" height="5" fill="#fff"/>
<rect x="279" y="223" width="3" height="5" fill="#fff"/>
<rect x="284" y="223" width="4" height="5" fill="#fff"/>
<rect x="290" y="223" width="3" height="5" fill="#fff"/>
<rect x="296" y="223" width="3" height="5" fill="#fff"/>
<rect x="302" y="223" width="3" height="5" fill="#fff"/>
<rect x="308" y="223" width="3" height="5" fill="#fff"/>
<rect x="313" y="223" width="3" height="5" fill="#fff"/>
<rect x="319" y="223" width="3" height="5" fill="#fff"/>
<rect x="273" y="223" width="3" height="5" fill="#fff"/>
<rect x="336" y="197" width="50" height="33" fill="#000"/>
<rect x="331" y="205" width="5" height="25" fill="#000"/>
<rect x="331" y="216" width="1" height="4" fill="#fff"/>
<rect x="332" y="217" width="1" height="2" fill="#fff"/>
<rect x="339" y="199" width="3" height="5" fill="#fff"/>
<rect x="344" y="199" width="4" height="5" fill="#fff"/>
<rect x="350" y="199" width="3" height="5" fill="#fff"/>
<rect x="356" y="199" width="3" height="5" fill="#fff"/>
<rect x="362" y="199" width="3" height="5" fill="#fff"/>
<rect x="368" y="199" width="3" height="5" fill="#fff"/>
<rect x="373" y="199" width="3" height="5" fill="#fff"/>
<rect x="379" y="199" width="3" height="5" fill="#fff"/>
<rect x="339" y="207" width="3" height="5" fill="#fff"/>
<rect x="344" y="207" width="4" height="5" fill="#fff"/>
<rect x="350" y="207" width="3" height="5" fill="#fff"/>
<rect x="356" y="207" width="3" height="5" fill="#fff"/>
<rect x="362" y="207" width="3" height="5" fill="#fff"/>
<rect x="368" y="207" width="3" height="5" fill="#fff"/>
<rect x="373" y="207" width="3" height="5" fill="#fff"/>
<rect x="379" y="207" width="3" height="5" fill="#fff"/>
<rect x="333" y="207" width="3" height="5" fill="#fff"/>
<rect x="339" y="215" width="3" height="5" fill="#fff"/>
<rect x="344" y="215" width="4" height="5" fill="#fff"/>
<rect x="350" y="215" width="3" height="5" fill="#fff"/>
<rect x="356" y="215" width="3" height="5" fill="#fff"/>
<rect x="362" y="215" width="3" height="5" fill="#fff"/>
<rect x="368" y="215" width="3" height="5" fill="#fff"/>
<rect x="373" y="215" width="3" height="5" fill="#fff"/>
<rect x="379" y="215" width="3" height="5" fill="#fff"/>
<rect x="339" y="223" width="3" height="5" fill="#fff"/>
<rect x="344" y="223" width="4" height="5" fill="#fff"/>
<rect x="350" y="223" width="3" height="5" fill="#fff"/>
<rect x="356" y="223" width="3" height="5" fill="#fff"/>
<rect x="362" y="223" width="3" height="5" fill="#fff"/>
<rect x="368" y="223" width="3" height="5" fill="#fff"/>
<rect x="373" y="223" width="3" height="5" fill="#fff"/>
<rect x="379" y="223" width="3" height="5" fill="#fff"/>
<rect x="333" y="223" width="3" height="5" fill="#fff"/>
<rect x="551" y="20" width="202" height="20" fill="#000"/>
<rect x="559" y="27" width="186" height="6" fill="#fff"/>
<rect x="551" y="65" width="202" height="20" fill="#000"/>
<rect x="559" y="72" width="186" height="6" fill="#fff"/>
<rect x="551" y="109" width="202" height="20" fill="#000"/>
<rect x="559" y="116" width="186" height="6" fill="#fff"/>
<rect x="551" y="153" width="202" height="20" fill="#000"/>
<rect x="559" y="160" width="186" height="6" fill="#fff"/>
<rect x="551" y="197" width="202" height="20" fill="#000"/>
<rect x="559" y="204" width="186" height="6" fill="#fff"/>
<rect x="551" y="241" width="202" height="20" fill="#000"/>
<rect x="559" y="248" width="186" height="6" fill="#fff"/>
<rect x="551" y="286" width="202" height="19" fill="#000"/>
<rect x="559" y="292" width="186" height="6" fill="#fff"/>
<rect x="551" y="330" width="202" height="20" fill="#000"/>
<rect x="559" y="337" width="186" height="6" fill="#fff"/>
<rect x="413" y="65" width="128" height="20" fill="#000"/>
<rect x="420" y="72" width="113" height="6" fill="#fff"/>
<rect x="413" y="109" width="128" height="20" fill="#000"/>
<rect x="420" y="116" width="113" height="6" fill="#fff"/>
<rect x="413" y="153" width="128" height="20" fill="#000"/>
<rect x="420" y="160" width="113" height="6" fill="#fff"/>
<rect x="413" y="197" width="128" height="20" fill="#000"/>
<rect x="420" y="204" width="113" height="6" fill="#fff"/>
<rect x="413" y="241" width="128" height="20" fill="#000"/>
<rect x="420" y="248" width="113" height="6" fill="#fff"/>
<rect x="413" y="330" width="128" height="20" fill="#000"/>
<rect x="420" y="337" width="113" height="6" fill="#fff"/>
<rect x="52" y="300" width="127" height="43" fill="#000"/>
<rect x="55" y="302" width="4" height="1" fill="#fff"/>
<rect x="61" y="302" width="4" height="1" fill="#fff"/>
<rect x="67" y="302" width="4" height="1" fill="#fff"/>
<rect x="73" y="302" width="4" height="1" fill="#fff"/>
<rect x="79" y="302" width="4" height="1" fill="#fff"/>
<rect x="85" y="302" width="4" height="1" fill="#fff"/>
<rect x="91" y="302" width="4" height="1" fill="#fff"/>
<rect x="97" y="302" width="4" height="1" fill="#fff"/>
<rect x="103" y="302" width="4" height="1" fill="#fff"/>
<rect x="109" y="302" width="4" height="1" fill="#fff"/>
<rect x="115" y="302" width="4" height="1" fill="#fff"/>
<rect x="121" y="302" width="4" height="1" fill="#fff"/>
<rect x="127" y="302" width="4" height="1" fill="#fff"/>
<rect x="133" y="302" width="4" height="1" fill="#fff"/>
<rect x="139" y="302" width="4" height="1" fill="#fff"/>
<rect x="145" y="302" width="4" height="1" fill="#fff"/>
<rect x="151" y="302" width="4" height="1" fill="#fff"/>
<rect x="157" y="302" width="4" height="1" fill="#fff"/>
<rect x="163" y="302" width="4" height="1" fill="#fff"/>
<rect x="169" y="302" width="4" height="1" fill="#fff"/>
<rect x="175" y="302" width="2" height="1" fill="#fff"/>
<rect x="194" y="300" width="88" height="42" fill="#000"/>
<rect x="197" y="339" width="4" height="1" fill="#fff"/>
<rect x="203" y="339" width="4" height="1" fill="#fff"/>
<rect x="209" y="339" width="4" height="1" fill="#fff"/>
<rect x="215" y="339" width="4" height="1" fill="#fff"/>
<rect x="221" y="339" width="4" height="1" fill="#fff"/>
<rect x="227" y="339" width="4" height="1" fill="#fff"/>
<rect x="233" y="339" width="4" height="1" fill="#fff"/>
<rect x="239" y="339" width="4" height="1" fill="#fff"/>
<rect x="245" y="339" width="4" height="1" fill="#fff"/>
<rect x="251" y="339" width="4" height="1" fill="#fff"/>
<rect x="257" y="339" width="4" height="1" fill="#fff"/>
<rect x="263" y="339" width="4" height="1" fill="#fff"/>
<rect x="269" y="339" width="4" height="1" fill="#fff"/>
<rect x="275" y="339" width="4" height="1" fill="#fff"/>
<rect x="196" y="336" width="1" height="4" fill="#fff"/>
<rect x="285" y="300" width="89" height="41" fill="#000"/>
<rect x="288" y="302" width="4" height="1" fill="#fff"/>
<rect x="294" y="302" width="4" height="1" fill="#fff"/>
<rect x="300" y="302" width="4" height="1" fill="#fff"/>
<rect x="306" y="302" width="4" height="1" fill="#fff"/>
<rect x="312" y="302" width="4" height="1" fill="#fff"/>
<rect x="318" y="302" width="4" height="1" fill="#fff"/>
<rect x="324" y="302" width="4" height="1" fill="#fff"/>
<rect x="330" y="302" width="4" height="1" fill="#fff"/>
<rect x="336" y="302" width="4" height="1" fill="#fff"/>
<rect x="342" y="302" width="4" height="1" fill="#fff"/>
<rect x="348" y="302" width="4" height="1" fill="#fff"/>
<rect x="354" y="302" width="4" height="1" fill="#fff"/>
<rect x="360" y="302" width="4" height="1" fill="#fff"/>
<rect x="366" y="302" width="4" height="1" fill="#fff"/>
<rect x="288" y="339" width="4" height="1" fill="#fff"/>
<rect x="294" y="339" width="4" height="1" fill="#fff"/>
<rect x="300" y="339" width="4" height="1" fill="#fff"/>
<rect x="306" y="339" width="4" height="1" fill="#fff"/>
<rect x="312" y="339" width="4" height="1" fill="#fff"/>
<rect x="318" y="339" width="4" height="1" fill="#fff"/>
<rect x="324" y="339" width="4" height="1" fill="#fff"/>
<rect x="330" y="339" width="4" height="1" fill="#fff"/>
<rect x="336" y="339" width="4" height="1" fill="#fff"/>
<rect x="342" y="339" width="4" height="1" fill="#fff"/>
<rect x="348" y="339" width="4" height="1" fill="#fff"/>
<rect x="354" y="339" width="4" height="1" fill="#fff"/>
<rect x="360" y="339" width="4" height="1" fill="#fff"/>
<rect x="366" y="339" width="4" height="1" fill="#fff"/>
<rect x="630" y="373" width="127" height="43" fill="#000"/>
<path d="M358,243H401V245H405V288H403V290H402V292H360V290H355V247H356V245H358Z" fill="#000" shape-rendering="crispEdges"/>
<path d="M83,355H126V357H130V401H128V403H127V405H85V403H80V359H81V357H83Z" fill="#000" shape-rendering="crispEdges"/>
<path d="M352,359H394V361H398V404H396V406H395V408H354V406H349V363H350V361H352Z" fill="#000" shape-rendering="crispEdges"/>
<path d="M67,432H110V434H114V477H112V479H111V481H69V479H64V436H65V434H67Z" fill="#000" shape-rendering="crispEdges"/>
<path d="M426,440H469V442H473V486H471V488H470V490H428V488H423V444H424V442H426Z" fill="#000" shape-rendering="crispEdges"/>
<path d="M231,349H287V352H293V409H290V415H233V411H227V355H229V352H231Z" fill="#000" shape-rendering="crispEdges"/>
<rect x="239" y="349" width="1" height="3" fill="#fff"/>
<rect x="242" y="349" width="1" height="3" fill="#fff"/>
<rect x="245" y="349" width="1" height="3" fill="#fff"/>
<rect x="248" y="349" width="1" height="3" fill="#fff"/>
<rect x="256" y="349" width="1" height="3" fill="#fff"/>
<rect x="259" y="349" width="1" height="3" fill="#fff"/>
<rect x="262" y="349" width="1" height="3" fill="#fff"/>
<rect x="273" y="349" width="1" height="3" fill="#fff"/>
<rect x="276" y="349" width="1" height="3" fill="#fff"/>
<rect x="279" y="349" width="1" height="3" fill="#fff"/>
<rect x="243" y="412" width="1" height="3" fill="#fff"/>
<rect x="246" y="412" width="1" height="3" fill="#fff"/>
<rect x="249" y="412" width="1" height="3" fill="#fff"/>
<rect x="252" y="412" width="1" height="3" fill="#fff"/>
<rect x="260" y="412" width="1" height="3" fill="#fff"/>
<rect x="263" y="412" width="1" height="3" fill="#fff"/>
<rect x="266" y="412" width="1" height="3" fill="#fff"/>
<rect x="277" y="412" width="1" height="3" fill="#fff"/>
<rect x="280" y="412" width="1" height="3" fill="#fff"/>
<rect x="283" y="412" width="1" height="3" fill="#fff"/>
<rect x="227" y="356" width="3" height="1" fill="#fff"/>
<rect x="227" y="369" width="3" height="1" fill="#fff"/>
<rect x="227" y="372" width="3" height="1" fill="#fff"/>
<rect x="227" y="375" width="3" height="1" fill="#fff"/>
<rect x="227" y="389" width="3" height="1" fill="#fff"/>
<rect x="227" y="392" width="3" height="1" fill="#fff"/>
<rect x="227" y="395" width="3" height="1" fill="#fff"/>
<rect x="227" y="408" width="3" height="1" fill="#fff"/>
<rect x="290" y="354" width="3" height="1" fill="#fff"/>
<rect x="290" y="357" width="3" height="1" fill="#fff"/>
<rect x="290" y="360" width="3" height="1" fill="#fff"/>
<rect x="290" y="363" width="3" height="1" fill="#fff"/>
<rect x="290" y="366" width="3" height="1" fill="#fff"/>
<rect x="290" y="378" width="3" height="1" fill="#fff"/>
<rect x="290" y="381" width="3" height="1" fill="#fff"/>
<rect x="290" y="384" width="3" height="1" fill="#fff"/>
<rect x="290" y="395" width="3" height="1" fill="#fff"/>
<rect x="290" y="398" width="3" height="1" fill="#fff"/>
<rect x="290" y="401" width="3" height="1" fill="#fff"/>
<path d="M197,440H253V443H259V500H256V506H199V502H193V446H195V443H197Z" fill="#000" shape-rendering="crispEdges"/>
<rect x="205" y="440" width="1" height="3" fill="#fff"/>
<rect x="208" y="440" width="1" height="3" fill="#fff"/>
<rect x="211" y="440" width="1" height="3" fill="#fff"/>
<rect x="214" y="440" width="1" height="3" fill="#fff"/>
<rect x="222" y="440" width="1" height="3" fill="#fff"/>
<rect x="225" y="440" width="1" height="3" fill="#fff"/>
<rect x="228" y="440" width="1" height="3" fill="#fff"/>
<rect x="239" y="440" width="1" height="3" fill="#fff"/>
<rect x="242" y="440" width="1" height="3" fill="#fff"/>
<rect x="245" y="440" width="1" height="3" fill="#fff"/>
<rect x="209" y="503" width="1" height="3" fill="#fff"/>
<rect x="212" y="503" width="1" height="3" fill="#fff"/>
<rect x="215" y="503" width="1" height="3" fill="#fff"/>
<rect x="218" y="503" width="1" height="3" fill="#fff"/>
<rect x="226" y="503" width="1" height="3" fill="#fff"/>
<rect x="229" y="503" width="1" height="3" fill="#fff"/>
<rect x="232" y="503" width="1" height="3" fill="#fff"/>
<rect x="243" y="503" width="1" height="3" fill="#fff"/>
<rect x="246" y="503" width="1" height="3" fill="#fff"/>
<rect x="249" y="503" width="1" height="3" fill="#fff"/>
<rect x="193" y="447" width="3" height="1" fill="#fff"/>
<rect x="193" y="460" width="3" height="1" fill="#fff"/>
<rect x="193" y="463" width="3" height="1" fill="#fff"/>
<rect x="193" y="466" width="3" height="1" fill="#fff"/>
<rect x="193" y="480" width="3" height="1" fill="#fff"/>
<rect x="193" y="483" width="3" height="1" fill="#fff"/>
<rect x="193" y="486" width="3" height="1" fill="#fff"/>
<rect x="193" y="499" width="3" height="1" fill="#fff"/>
<rect x="256" y="445" width="3" height="1" fill="#fff"/>
<rect x="256" y="448" width="3" height="1" fill="#fff"/>
<rect x="256" y="451" width="3" height="1" fill="#fff"/>
<rect x="256" y="454" width="3" height="1" fill="#fff"/>
<rect x="256" y="457" width="3" height="1" fill="#fff"/>
<rect x="256" y="469" width="3" height="1" fill="#fff"/>
<rect x="256" y="472" width="3" height="1" fill="#fff"/>
<rect x="256" y="475" width="3" height="1" fill="#fff"/>
<rect x="256" y="486" width="3" height="1" fill="#fff"/>
<rect x="256" y="489" width="3" height="1" fill="#fff"/>
<rect x="256" y="492" width="3" height="1" fill="#fff"/>
<path d="M335.5,457.5H358.5L360.5,462.5L358.5,467.5V474L360.5,477.5L358.5,481.5V487.5L360.5,492.5L358,497.5H336L333.5,492.5L335.5,487.5V481.5L333.5,477.5L335.5,474V467.5L333.5,462.5Z" fill="#fff" stroke="#000" stroke-width="1"/>
<rect x="774" y="421" width="24" height="37" fill="#000"/>
<rect x="798" y="416" width="3" height="46" fill="#000"/>
<rect x="801" y="414" width="4" height="51" fill="#000"/>
<rect x="767" y="429" width="8" height="9" fill="#000"/>
<rect x="768" y="430" width="4" height="7" fill="#fff"/>
<rect x="772" y="431" width="2" height="1" fill="#fff"/>
<rect x="772" y="433" width="2" height="1" fill="#fff"/>
<rect x="772" y="435" width="2" height="1" fill="#fff"/>
<rect x="767" y="440" width="8" height="9" fill="#000"/>
<rect x="768" y="441" width="4" height="7" fill="#fff"/>
<rect x="772" y="442" width="2" height="1" fill="#fff"/>
<rect x="772" y="444" width="2" height="1" fill="#fff"/>
<rect x="772" y="446" width="2" height="1" fill="#fff"/>
<rect x="773" y="437" width="1" height="4" fill="#000"/>
<rect x="667" y="475" width="112" height="25" fill="#000"/>
<rect x="668" y="476" width="110" height="23" fill="#fff"/>
<rect x="668" y="483" width="110" height="1" fill="#000"/>
<rect x="669.0" y="478" width="7" height="4" rx="2" fill="#000"/>
<rect x="670.5" y="479.5" width="4" height="1" fill="#fff"/>
<rect x="671" y="481" width="3" height="2" fill="#000"/>
<rect x="669" y="486" width="7" height="2" fill="#000"/>
<rect x="678.1" y="478" width="7" height="4" rx="2" fill="#000"/>
<rect x="679.6" y="479.5" width="4" height="1" fill="#fff"/>
<rect x="680" y="481" width="3" height="2" fill="#000"/>
<rect x="678" y="486" width="7" height="2" fill="#000"/>
<rect x="687.2" y="478" width="7" height="4" rx="2" fill="#000"/>
<rect x="688.7" y="479.5" width="4" height="1" fill="#fff"/>
<rect x="689" y="481" width="3" height="2" fill="#000"/>
<rect x="687" y="486" width="7" height="2" fill="#000"/>
<rect x="696.3" y="478" width="7" height="4" rx="2" fill="#000"/>
<rect x="697.8" y="479.5" width="4" height="1" fill="#fff"/>
<rect x="698" y="481" width="3" height="2" fill="#000"/>
<rect x="696" y="486" width="7" height="2" fill="#000"/>
<rect x="705.4" y="478" width="7" height="4" rx="2" fill="#000"/>
<rect x="706.9" y="479.5" width="4" height="1" fill="#fff"/>
<rect x="707" y="481" width="3" height="2" fill="#000"/>
<rect x="705" y="486" width="7" height="2" fill="#000"/>
<rect x="714.5" y="478" width="7" height="4" rx="2" fill="#000"/>
<rect x="716.0" y="479.5" width="4" height="1" fill="#fff"/>
<rect x="716" y="481" width="3" height="2" fill="#000"/>
<rect x="714" y="486" width="7" height="2" fill="#000"/>
<rect x="723.6" y="478" width="7" height="4" rx="2" fill="#000"/>
<rect x="725.1" y="479.5" width="4" height="1" fill="#fff"/>
<rect x="726" y="481" width="3" height="2" fill="#000"/>
<rect x="724" y="486" width="7" height="2" fill="#000"/>
<rect x="732.7" y="478" width="7" height="4" rx="2" fill="#000"/>
<rect x="734.2" y="479.5" width="4" height="1" fill="#fff"/>
<rect x="735" y="481" width="3" height="2" fill="#000"/>
<rect x="733" y="486" width="7" height="2" fill="#000"/>
<rect x="741.8" y="478" width="7" height="4" rx="2" fill="#000"/>
<rect x="743.3" y="479.5" width="4" height="1" fill="#fff"/>
<rect x="744" y="481" width="3" height="2" fill="#000"/>
<rect x="742" y="486" width="7" height="2" fill="#000"/>
<rect x="750.9" y="478" width="7" height="4" rx="2" fill="#000"/>
<rect x="752.4" y="479.5" width="4" height="1" fill="#fff"/>
<rect x="753" y="481" width="3" height="2" fill="#000"/>
<rect x="751" y="486" width="7" height="2" fill="#000"/>
<rect x="760.0" y="478" width="7" height="4" rx="2" fill="#000"/>
<rect x="761.5" y="479.5" width="4" height="1" fill="#fff"/>
<rect x="762" y="481" width="3" height="2" fill="#000"/>
<rect x="760" y="486" width="7" height="2" fill="#000"/>
<rect x="769.1" y="478" width="7" height="4" rx="2" fill="#000"/>
<rect x="770.6" y="479.5" width="4" height="1" fill="#fff"/>
<rect x="771" y="481" width="3" height="2" fill="#000"/>
<rect x="769" y="486" width="7" height="2" fill="#000"/>
<rect x="673" y="489" width="8" height="9" fill="#000"/>
<rect x="674" y="490" width="6" height="7" fill="#fff"/>
<rect x="682" y="489" width="8" height="9" fill="#000"/>
<rect x="683" y="490" width="6" height="7" fill="#fff"/>
<rect x="691" y="489" width="8" height="9" fill="#000"/>
<rect x="692" y="490" width="6" height="7" fill="#fff"/>
<rect x="700" y="489" width="8" height="9" fill="#000"/>
<rect x="701" y="490" width="6" height="7" fill="#fff"/>
<rect x="710" y="489" width="8" height="9" fill="#000"/>
<rect x="711" y="490" width="6" height="7" fill="#fff"/>
<rect x="719" y="489" width="8" height="9" fill="#000"/>
<rect x="720" y="490" width="6" height="7" fill="#fff"/>
<rect x="728" y="489" width="8" height="9" fill="#000"/>
<rect x="729" y="490" width="6" height="7" fill="#fff"/>
<rect x="737" y="489" width="8" height="9" fill="#000"/>
<rect x="738" y="490" width="6" height="7" fill="#fff"/>
<rect x="746" y="489" width="8" height="9" fill="#000"/>
<rect x="747" y="490" width="6" height="7" fill="#fff"/>
<rect x="755" y="489" width="8" height="9" fill="#000"/>
<rect x="756" y="490" width="6" height="7" fill="#fff"/>
<rect x="764" y="489" width="8" height="9" fill="#000"/>
<rect x="765" y="490" width="6" height="7" fill="#fff"/>
<rect x="774" y="489" width="5" height="9" fill="#000"/>
<rect x="775" y="490" width="3" height="7" fill="#fff"/>
<rect x="667" y="490" width="1" height="5" fill="#fff"/>
<path d="M667.5,489.5L669.5,492.5L667.5,495.5" fill="none" stroke="#000" stroke-width="1"/>
<path d="M778.5,489.5L776.5,492.5L778.5,495.5" fill="none" stroke="#000" stroke-width="1"/>
<rect x="28" y="256" width="68" height="19" fill="#000"/>
<rect x="29" y="257" width="66" height="17" fill="#fff"/>
<rect x="30" y="257" width="4" height="4" fill="#000"/>
<rect x="31" y="258" width="2" height="2" fill="#fff"/>
<rect x="34" y="260" width="6" height="11" fill="#000"/>
<rect x="35" y="261" width="4" height="9" fill="#fff"/>
<rect x="41" y="260" width="6" height="11" fill="#000"/>
<rect x="49" y="260" width="6" height="11" fill="#000"/>
<rect x="56" y="260" width="6" height="11" fill="#000"/>
<rect x="64" y="260" width="6" height="11" fill="#000"/>
<rect x="71" y="260" width="6" height="11" fill="#000"/>
<rect x="78" y="260" width="6" height="11" fill="#000"/>
<rect x="85" y="260" width="7" height="11" fill="#000"/>
<rect x="32" y="239" width="26" height="7" fill="#000"/>
<rect x="33" y="240" width="1" height="5" fill="#fff"/>
<rect x="38" y="240" width="1" height="5" fill="#fff"/>
<rect x="44" y="240" width="1" height="5" fill="#fff"/>
<rect x="50" y="240" width="1" height="5" fill="#fff"/>
<rect x="55" y="240" width="2" height="5" fill="#fff"/>
<rect x="35" y="241" width="2" height="3" fill="#fff"/>
<rect x="117" y="239" width="31" height="7" fill="#000"/>
<rect x="118" y="240" width="1" height="5" fill="#fff"/>
<rect x="124" y="240" width="1" height="5" fill="#fff"/>
<rect x="129" y="240" width="2" height="5" fill="#fff"/>
<rect x="135" y="240" width="1" height="5" fill="#fff"/>
<rect x="141" y="240" width="1" height="5" fill="#fff"/>
<rect x="120" y="241" width="3" height="3" fill="#fff"/>
<rect x="162" y="239" width="20" height="7" fill="#000"/>
<rect x="163" y="240" width="1" height="5" fill="#fff"/>
<rect x="169" y="240" width="1" height="5" fill="#fff"/>
<rect x="174" y="240" width="2" height="5" fill="#fff"/>
<rect x="180" y="240" width="1" height="5" fill="#fff"/>
<rect x="165" y="241" width="3" height="3" fill="#fff"/>
<rect x="102" y="257" width="14" height="7" fill="#000"/>
<rect x="103" y="258" width="1" height="5" fill="#fff"/>
<rect x="109" y="258" width="1" height="5" fill="#fff"/>
<rect x="114" y="258" width="1" height="5" fill="#fff"/>
<rect x="129" y="257" width="19" height="7" fill="#000"/>
<rect x="130" y="258" width="1" height="5" fill="#fff"/>
<rect x="135" y="258" width="2" height="5" fill="#fff"/>
<rect x="141" y="258" width="2" height="5" fill="#fff"/>
<rect x="132" y="259" width="2" height="3" fill="#fff"/>
<rect x="162" y="257" width="20" height="7" fill="#000"/>
<rect x="163" y="258" width="1" height="5" fill="#fff"/>
<rect x="169" y="258" width="1" height="5" fill="#fff"/>
<rect x="174" y="258" width="2" height="5" fill="#fff"/>
<rect x="180" y="258" width="1" height="5" fill="#fff"/>
<rect x="165" y="259" width="3" height="3" fill="#fff"/>
<rect x="163" y="275" width="19" height="7" fill="#000"/>
<rect x="164" y="280" width="17" height="1" fill="#fff"/>
<rect x="164" y="276" width="1" height="4" fill="#fff"/>
<rect x="169" y="276" width="1" height="4" fill="#fff"/>
<rect x="175" y="276" width="1" height="4" fill="#fff"/>
<rect x="166" y="277" width="2" height="2" fill="#fff"/>
<rect x="394" y="17" width="14" height="7" fill="#000"/>
<rect x="395" y="18" width="1" height="5" fill="#fff"/>
<rect x="401" y="18" width="1" height="5" fill="#fff"/>
<rect x="406" y="18" width="1" height="5" fill="#fff"/>
<rect x="647" y="358" width="20" height="7" fill="#000"/>
<rect x="648" y="359" width="1" height="5" fill="#fff"/>
<rect x="654" y="359" width="1" height="5" fill="#fff"/>
<rect x="659" y="359" width="2" height="5" fill="#fff"/>
<rect x="665" y="359" width="1" height="5" fill="#fff"/>
<rect x="650" y="360" width="3" height="3" fill="#fff"/>
<rect x="719" y="358" width="19" height="7" fill="#000"/>
<rect x="720" y="359" width="1" height="5" fill="#fff"/>
<rect x="725" y="359" width="1" height="5" fill="#fff"/>
<rect x="731" y="359" width="1" height="5" fill="#fff"/>
<rect x="722" y="360" width="2" height="3" fill="#fff"/>
<rect x="391" y="93" width="19" height="7" fill="#000"/>
<rect x="397" y="87" width="7" height="6" fill="#000"/>
<rect x="398" y="100" width="3" height="1" fill="#000"/>
<rect x="392" y="94" width="5" height="1" fill="#fff"/>
<rect x="398" y="94" width="5" height="1" fill="#fff"/>
<rect x="404" y="94" width="5" height="1" fill="#fff"/>
<rect x="393" y="96" width="3" height="2" fill="#fff"/>
<rect x="398" y="88" width="1" height="6" fill="#fff"/>
<rect x="746" y="434" width="7" height="26" fill="#000"/>
<rect x="747" y="435" width="5" height="5" fill="#fff"/>
<rect x="749" y="437" width="2" height="2" fill="#000"/>
<rect x="747" y="440" width="1" height="19" fill="#fff"/>
<rect x="747" y="446" width="5" height="1" fill="#fff"/>
<rect x="747" y="452" width="5" height="1" fill="#fff"/>
<rect x="747" y="458" width="5" height="1" fill="#fff"/>
<path d="M6,212H36L38,214V229L36,231H6L4,229V214Z" fill="#000"/>
<path d="M7,214H35L36,215V228L35,229H7L6,228V215Z" fill="#fff"/>
<path d="M30,230L40.17,233.8L37,226Z" fill="#fff" stroke="none"/>
<path d="M30,230L40.17,233.8L37,226" fill="none" stroke="#000" stroke-width="1.7" stroke-linejoin="round"/>
<path d="M40.17,233.8L45,238" fill="none" stroke="#000" stroke-width="2.4"/>
<text transform="translate(10.5,225) scale(0.7,1)" font-family="'Liberation Sans', sans-serif" font-size="14" textLength="30.7" lengthAdjust="spacing" fill="#000" stroke="#000" stroke-width="0.15">J19</text>
<path d="M94,215H124L126,217V231L124,233H94L92,231V217Z" fill="#000"/>
<path d="M95,217H123L124,218V230L123,231H95L94,230V218Z" fill="#fff"/>
<path d="M119,232L128.96,235.8L125,228Z" fill="#fff" stroke="none"/>
<path d="M119,232L128.96,235.8L125,228" fill="none" stroke="#000" stroke-width="1.7" stroke-linejoin="round"/>
<path d="M128.96,235.8L134,240" fill="none" stroke="#000" stroke-width="2.4"/>
<text transform="translate(98.5,227) scale(0.7,1)" font-family="'Liberation Sans', sans-serif" font-size="14" textLength="30.0" lengthAdjust="spacing" fill="#000" stroke="#000" stroke-width="0.15">J20</text>
<path d="M61,232H93L95,234V248L93,250H61L59,248V234Z" fill="#000"/>
<path d="M62,234H92L93,235V247L92,248H62L61,247V235Z" fill="#fff"/>
<path d="M88,249L96.8,252.22L94,245Z" fill="#fff" stroke="none"/>
<path d="M88,249L96.8,252.22L94,245" fill="none" stroke="#000" stroke-width="1.7" stroke-linejoin="round"/>
<path d="M96.8,252.22L101,256" fill="none" stroke="#000" stroke-width="2.4"/>
<text transform="translate(64.5,245) scale(0.7,1)" font-family="'Liberation Sans', sans-serif" font-size="14" textLength="32.9" lengthAdjust="spacing" fill="#000" stroke="#000" stroke-width="0.15">JP6</text>
<path d="M11,285H49L51,287V301L49,303H11L9,301V287Z" fill="#000"/>
<path d="M12,287H48L49,288V300L48,301H12L11,300V288Z" fill="#fff"/>
<path d="M46,286L53.8,281.04L50,290Z" fill="#fff" stroke="none"/>
<path d="M46,286L53.8,281.04L50,290" fill="none" stroke="#000" stroke-width="1.7" stroke-linejoin="round"/>
<path d="M53.8,281.04L58,276" fill="none" stroke="#000" stroke-width="2.4"/>
<text transform="translate(15,298) scale(0.7,1)" font-family="'Liberation Sans', sans-serif" font-size="14" textLength="43.6" lengthAdjust="spacing" fill="#000" stroke="#000" stroke-width="0.15">DSP1</text>
<path d="M125,282H155L157,284V299L155,301H125L123,299V284Z" fill="#000"/>
<path d="M126,284H154L155,285V298L154,299H126L125,298V285Z" fill="#fff"/>
<path d="M136.5,283L139.21,272.56L142.5,283Z" fill="#fff" stroke="none"/>
<path d="M136.5,283L139.21,272.56L142.5,283" fill="none" stroke="#000" stroke-width="1.7" stroke-linejoin="round"/>
<path d="M139.21,272.56L139,265" fill="none" stroke="#000" stroke-width="2.4"/>
<text transform="translate(130,296) scale(0.7,1)" font-family="'Liberation Sans', sans-serif" font-size="14" textLength="30.7" lengthAdjust="spacing" fill="#000" stroke="#000" stroke-width="0.15">JP1</text>
<path d="M200,234H232L234,236V251L232,253H200L198,251V236Z" fill="#000"/>
<path d="M201,236H231L232,237V250L231,251H201L200,250V237Z" fill="#fff"/>
<path d="M199,240.5L189.72,243.5L199,246.5Z" fill="#fff" stroke="none"/>
<path d="M199,240.5L189.72,243.5L199,246.5" fill="none" stroke="#000" stroke-width="1.7" stroke-linejoin="round"/>
<path d="M189.72,243.5L183,243.5" fill="none" stroke="#000" stroke-width="2.4"/>
<text transform="translate(204,248) scale(0.7,1)" font-family="'Liberation Sans', sans-serif" font-size="14" textLength="30.7" lengthAdjust="spacing" fill="#000" stroke="#000" stroke-width="0.15">JP9</text>
<path d="M192,267H222L224,269V283L222,285H192L190,283V269Z" fill="#000"/>
<path d="M193,269H221L222,270V282L221,283H193L192,282V270Z" fill="#fff"/>
<path d="M191,272L187.41,264.2L196,268Z" fill="#fff" stroke="none"/>
<path d="M191,272L187.41,264.2L196,268" fill="none" stroke="#000" stroke-width="1.7" stroke-linejoin="round"/>
<path d="M187.41,264.2L183,260" fill="none" stroke="#000" stroke-width="2.4"/>
<text transform="translate(196,281) scale(0.7,1)" font-family="'Liberation Sans', sans-serif" font-size="14" textLength="32.9" lengthAdjust="spacing" fill="#000" stroke="#000" stroke-width="0.15">JP2</text>
<path d="M189,288H220L222,290V304L220,306H189L187,304V290Z" fill="#000"/>
<path d="M190,290H219L220,291V303L219,304H190L189,303V291Z" fill="#fff"/>
<path d="M188,294L184.41,285.41L193,289Z" fill="#fff" stroke="none"/>
<path d="M188,294L184.41,285.41L193,289" fill="none" stroke="#000" stroke-width="1.7" stroke-linejoin="round"/>
<path d="M184.41,285.41L180,281" fill="none" stroke="#000" stroke-width="2.4"/>
<text transform="translate(193,302) scale(0.7,1)" font-family="'Liberation Sans', sans-serif" font-size="14" textLength="32.1" lengthAdjust="spacing" fill="#000" stroke="#000" stroke-width="0.15">JP3</text>
<path d="M426,11H458L460,13V28L458,30H426L424,28V13Z" fill="#000"/>
<path d="M427,13H457L458,14V27L457,28H427L426,27V14Z" fill="#fff"/>
<path d="M425,17.5L415.72,20.5L425,23.5Z" fill="#fff" stroke="none"/>
<path d="M425,17.5L415.72,20.5L425,23.5" fill="none" stroke="#000" stroke-width="1.7" stroke-linejoin="round"/>
<path d="M415.72,20.5L409,20.5" fill="none" stroke="#000" stroke-width="2.4"/>
<text transform="translate(426.5,25) scale(0.78,1)" font-family="'Liberation Sans', sans-serif" font-size="14" textLength="39.1" lengthAdjust="spacing" fill="#000" stroke="#000" stroke-width="0.15">OWS</text>
<path d="M432,88H464L466,90V104L464,106H432L430,104V90Z" fill="#000"/>
<path d="M433,90H463L464,91V103L463,104H433L432,103V91Z" fill="#fff"/>
<path d="M431,94L421.72,97.0L431,100Z" fill="#fff" stroke="none"/>
<path d="M431,94L421.72,97.0L431,100" fill="none" stroke="#000" stroke-width="1.7" stroke-linejoin="round"/>
<path d="M421.72,97.0L415,97" fill="none" stroke="#000" stroke-width="2.4"/>
<text transform="translate(436.5,101) scale(0.7,1)" font-family="'Liberation Sans', sans-serif" font-size="14" textLength="30.7" lengthAdjust="spacing" fill="#000" stroke="#000" stroke-width="0.15">JP5</text>
<path d="M597,352H629L631,354V369L629,371H597L595,369V354Z" fill="#000"/>
<path d="M598,354H628L629,355V368L628,369H598L597,368V355Z" fill="#fff"/>
<path d="M630,358L639.28,361.5L630,365Z" fill="#fff" stroke="none"/>
<path d="M630,358L639.28,361.5L630,365" fill="none" stroke="#000" stroke-width="1.7" stroke-linejoin="round"/>
<path d="M639.28,361.5L646,361.5" fill="none" stroke="#000" stroke-width="2.4"/>
<text transform="translate(599.5,366) scale(0.7,1)" font-family="'Liberation Sans', sans-serif" font-size="14" textLength="37.9" lengthAdjust="spacing" fill="#000" stroke="#000" stroke-width="0.15">SW1</text>
<path d="M756,352H788L790,354V369L788,371H756L754,369V354Z" fill="#000"/>
<path d="M757,354H787L788,355V368L787,369H757L756,368V355Z" fill="#fff"/>
<path d="M755,358L745.72,361.5L755,365Z" fill="#fff" stroke="none"/>
<path d="M755,358L745.72,361.5L755,365" fill="none" stroke="#000" stroke-width="1.7" stroke-linejoin="round"/>
<path d="M745.72,361.5L739,361.5" fill="none" stroke="#000" stroke-width="2.4"/>
<text transform="translate(761,366) scale(0.7,1)" font-family="'Liberation Sans', sans-serif" font-size="14" textLength="30.7" lengthAdjust="spacing" fill="#000" stroke="#000" stroke-width="0.15">JP7</text>
<path d="M695,437H727L729,439V454L727,456H695L693,454V439Z" fill="#000"/>
<path d="M696,439H726L727,440V453L726,454H696L695,453V440Z" fill="#fff"/>
<path d="M728,443L737.28,446.5L728,450Z" fill="#fff" stroke="none"/>
<path d="M728,443L737.28,446.5L728,450" fill="none" stroke="#000" stroke-width="1.7" stroke-linejoin="round"/>
<path d="M737.28,446.5L744,446.5" fill="none" stroke="#000" stroke-width="2.4"/>
<text transform="translate(699.5,450) scale(0.7,1)" font-family="'Liberation Sans', sans-serif" font-size="14" textLength="28.6" lengthAdjust="spacing" fill="#000" stroke="#000" stroke-width="0.15">J21</text>
<path d="M92,115H148L150,117V132L148,134H92L90,132V117Z" fill="#000"/>
<path d="M94,117H146L147,118V131L146,132H94L93,131V118Z" fill="#fff"/>
<text transform="translate(96.5,129) scale(0.7,1)" font-family="'Liberation Sans', sans-serif" font-size="14" textLength="67.1" lengthAdjust="spacing" fill="#000" stroke="#000" stroke-width="0.15">BANK 0</text>
<path d="M271,115H327L329,117V132L327,134H271L269,132V117Z" fill="#000"/>
<path d="M273,117H325L326,118V131L325,132H273L272,131V118Z" fill="#fff"/>
<text transform="translate(274.5,129) scale(0.7,1)" font-family="'Liberation Sans', sans-serif" font-size="14" textLength="66.4" lengthAdjust="spacing" fill="#000" stroke="#000" stroke-width="0.15">BANK 1</text>
<rect x="102" y="314" width="28" height="15" rx="1.5" fill="#fff"/>
<text transform="translate(102.5,326) scale(0.7,1)" font-family="'Liberation Sans', sans-serif" font-size="14" textLength="37.1" lengthAdjust="spacing" fill="#000" stroke="#000" stroke-width="0.15">CPU</text>
<rect x="199" y="314" width="78" height="14" rx="1.5" fill="#fff"/>
<text transform="translate(201,325) scale(0.7,1)" font-family="'Liberation Sans', sans-serif" font-size="14" textLength="100.0" lengthAdjust="spacing" fill="#000" stroke="#000" stroke-width="0.15">BIOS/EVEN</text>
<rect x="290" y="314" width="79" height="14" rx="1.5" fill="#fff"/>
<text transform="translate(297.5,325) scale(0.7,1)" font-family="'Liberation Sans', sans-serif" font-size="14" textLength="90.0" lengthAdjust="spacing" fill="#000" stroke="#000" stroke-width="0.15">BIOS/ODD</text>
<rect x="680" y="388" width="28" height="14" rx="1.5" fill="#fff"/>
<text transform="translate(681.5,399) scale(0.7,1)" font-family="'Liberation Sans', sans-serif" font-size="14" textLength="35.7" lengthAdjust="spacing" fill="#000" stroke="#000" stroke-width="0.15">KBD</text>
<text transform="translate(619.5,54) scale(0.72,1)" font-family="'Liberation Sans', sans-serif" font-size="12.5" textLength="60.0" lengthAdjust="spacing" fill="#000" stroke="#000" stroke-width="0.15">MH1543</text>
<text transform="translate(397,84) scale(0.8,1)" font-family="'Liberation Sans', sans-serif" font-size="12.5" textLength="7.5" lengthAdjust="spacing" fill="#000" stroke="#000" stroke-width="0.15">4</text>
<text transform="translate(397,109) scale(0.8,1)" font-family="'Liberation Sans', sans-serif" font-size="12" textLength="7.5" lengthAdjust="spacing" fill="#000" stroke="#000" stroke-width="0.15">2</text>
</svg>
</body>
</html>
